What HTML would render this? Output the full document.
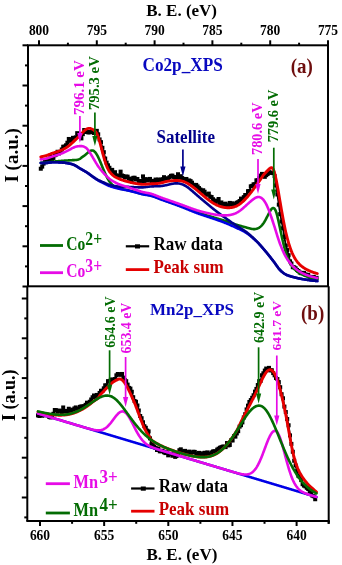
<!DOCTYPE html>
<html><head><meta charset="utf-8"><style>
html,body{margin:0;padding:0;background:#fff;}
svg{display:block;will-change:transform;}
</style></head><body>
<svg width="342" height="565" viewBox="0 0 342 565">
<rect width="342" height="565" fill="#fff"/>
<line x1="39.00" y1="45.3" x2="39.00" y2="40.3" stroke="#000" stroke-width="2"/>
<text transform="translate(39.00,34.7) scale(1,1.13)" text-anchor="middle" style="font-family:'Liberation Serif',serif;font-weight:bold;font-size:13.5px">800</text>
<line x1="67.90" y1="45.3" x2="67.90" y2="42.699999999999996" stroke="#000" stroke-width="2"/>
<line x1="96.80" y1="45.3" x2="96.80" y2="40.3" stroke="#000" stroke-width="2"/>
<text transform="translate(96.80,34.7) scale(1,1.13)" text-anchor="middle" style="font-family:'Liberation Serif',serif;font-weight:bold;font-size:13.5px">795</text>
<line x1="125.70" y1="45.3" x2="125.70" y2="42.699999999999996" stroke="#000" stroke-width="2"/>
<line x1="154.60" y1="45.3" x2="154.60" y2="40.3" stroke="#000" stroke-width="2"/>
<text transform="translate(154.60,34.7) scale(1,1.13)" text-anchor="middle" style="font-family:'Liberation Serif',serif;font-weight:bold;font-size:13.5px">790</text>
<line x1="183.50" y1="45.3" x2="183.50" y2="42.699999999999996" stroke="#000" stroke-width="2"/>
<line x1="212.40" y1="45.3" x2="212.40" y2="40.3" stroke="#000" stroke-width="2"/>
<text transform="translate(212.40,34.7) scale(1,1.13)" text-anchor="middle" style="font-family:'Liberation Serif',serif;font-weight:bold;font-size:13.5px">785</text>
<line x1="241.30" y1="45.3" x2="241.30" y2="42.699999999999996" stroke="#000" stroke-width="2"/>
<line x1="270.20" y1="45.3" x2="270.20" y2="40.3" stroke="#000" stroke-width="2"/>
<text transform="translate(270.20,34.7) scale(1,1.13)" text-anchor="middle" style="font-family:'Liberation Serif',serif;font-weight:bold;font-size:13.5px">780</text>
<line x1="299.10" y1="45.3" x2="299.10" y2="42.699999999999996" stroke="#000" stroke-width="2"/>
<line x1="328.00" y1="45.3" x2="328.00" y2="40.3" stroke="#000" stroke-width="2"/>
<text transform="translate(328.00,34.7) scale(1,1.13)" text-anchor="middle" style="font-family:'Liberation Serif',serif;font-weight:bold;font-size:13.5px">775</text>
<line x1="28" y1="45.30" x2="22.5" y2="45.30" stroke="#000" stroke-width="2"/>
<line x1="28" y1="65.40" x2="25" y2="65.40" stroke="#000" stroke-width="2"/>
<line x1="28" y1="85.50" x2="22.5" y2="85.50" stroke="#000" stroke-width="2"/>
<line x1="28" y1="105.60" x2="25" y2="105.60" stroke="#000" stroke-width="2"/>
<line x1="28" y1="125.70" x2="22.5" y2="125.70" stroke="#000" stroke-width="2"/>
<line x1="28" y1="145.80" x2="25" y2="145.80" stroke="#000" stroke-width="2"/>
<line x1="28" y1="165.90" x2="22.5" y2="165.90" stroke="#000" stroke-width="2"/>
<line x1="28" y1="186.00" x2="25" y2="186.00" stroke="#000" stroke-width="2"/>
<line x1="28" y1="206.10" x2="22.5" y2="206.10" stroke="#000" stroke-width="2"/>
<line x1="28" y1="226.20" x2="25" y2="226.20" stroke="#000" stroke-width="2"/>
<line x1="28" y1="246.30" x2="22.5" y2="246.30" stroke="#000" stroke-width="2"/>
<line x1="28" y1="266.40" x2="25" y2="266.40" stroke="#000" stroke-width="2"/>
<line x1="28" y1="286.50" x2="22.5" y2="286.50" stroke="#000" stroke-width="2"/>
<line x1="40.00" y1="521" x2="40.00" y2="526" stroke="#000" stroke-width="2"/>
<text transform="translate(40.00,540) scale(1,1.13)" text-anchor="middle" style="font-family:'Liberation Serif',serif;font-weight:bold;font-size:13.5px">660</text>
<line x1="72.08" y1="521" x2="72.08" y2="523.8" stroke="#000" stroke-width="2"/>
<line x1="104.15" y1="521" x2="104.15" y2="526" stroke="#000" stroke-width="2"/>
<text transform="translate(104.15,540) scale(1,1.13)" text-anchor="middle" style="font-family:'Liberation Serif',serif;font-weight:bold;font-size:13.5px">655</text>
<line x1="136.22" y1="521" x2="136.22" y2="523.8" stroke="#000" stroke-width="2"/>
<line x1="168.30" y1="521" x2="168.30" y2="526" stroke="#000" stroke-width="2"/>
<text transform="translate(168.30,540) scale(1,1.13)" text-anchor="middle" style="font-family:'Liberation Serif',serif;font-weight:bold;font-size:13.5px">650</text>
<line x1="200.38" y1="521" x2="200.38" y2="523.8" stroke="#000" stroke-width="2"/>
<line x1="232.45" y1="521" x2="232.45" y2="526" stroke="#000" stroke-width="2"/>
<text transform="translate(232.45,540) scale(1,1.13)" text-anchor="middle" style="font-family:'Liberation Serif',serif;font-weight:bold;font-size:13.5px">645</text>
<line x1="264.52" y1="521" x2="264.52" y2="523.8" stroke="#000" stroke-width="2"/>
<line x1="296.60" y1="521" x2="296.60" y2="526" stroke="#000" stroke-width="2"/>
<text transform="translate(296.60,540) scale(1,1.13)" text-anchor="middle" style="font-family:'Liberation Serif',serif;font-weight:bold;font-size:13.5px">640</text>
<line x1="328.68" y1="521" x2="328.68" y2="523.8" stroke="#000" stroke-width="2"/>
<line x1="328.7" y1="521" x2="328.7" y2="523.8" stroke="#000" stroke-width="2"/>
<line x1="27.3" y1="298.50" x2="21.8" y2="298.50" stroke="#000" stroke-width="2"/>
<line x1="27.3" y1="318.40" x2="24.3" y2="318.40" stroke="#000" stroke-width="2"/>
<line x1="27.3" y1="338.30" x2="21.8" y2="338.30" stroke="#000" stroke-width="2"/>
<line x1="27.3" y1="358.20" x2="24.3" y2="358.20" stroke="#000" stroke-width="2"/>
<line x1="27.3" y1="378.10" x2="21.8" y2="378.10" stroke="#000" stroke-width="2"/>
<line x1="27.3" y1="398.00" x2="24.3" y2="398.00" stroke="#000" stroke-width="2"/>
<line x1="27.3" y1="417.90" x2="21.8" y2="417.90" stroke="#000" stroke-width="2"/>
<line x1="27.3" y1="437.80" x2="24.3" y2="437.80" stroke="#000" stroke-width="2"/>
<line x1="27.3" y1="457.70" x2="21.8" y2="457.70" stroke="#000" stroke-width="2"/>
<line x1="27.3" y1="477.60" x2="24.3" y2="477.60" stroke="#000" stroke-width="2"/>
<line x1="27.3" y1="497.50" x2="21.8" y2="497.50" stroke="#000" stroke-width="2"/>
<line x1="27.3" y1="517.40" x2="24.3" y2="517.40" stroke="#000" stroke-width="2"/>
<text transform="translate(146.2,16.2) scale(1,1.0)" fill="#000" text-anchor="start" style="font-family:'Liberation Serif',serif;font-weight:bold;font-size:17px">B. E. (eV)</text>
<text transform="translate(146.5,559.5) scale(1,1.0)" fill="#000" text-anchor="start" style="font-family:'Liberation Serif',serif;font-weight:bold;font-size:17px">B. E. (eV)</text>
<text transform="translate(17.8,182.6) rotate(-90) scale(1.04,1)" fill="#000" style="font-family:'Liberation Serif',serif;font-weight:bold;font-size:18.3px">I (a.u.)</text>
<text transform="translate(15.4,420.9) rotate(-90) scale(1.0,1)" fill="#000" style="font-family:'Liberation Serif',serif;font-weight:bold;font-size:18.0px">I (a.u.)</text>
<path d="M40.80,168.72 L42.20,166.62 L43.60,163.60 L45.00,161.39 L46.40,162.14 L47.80,159.66 L49.20,158.83 L50.60,156.92 L52.00,159.86 L53.40,157.91 L54.80,155.20 L56.20,154.52 L57.60,151.76 L59.00,153.41 L60.40,152.08 L61.80,149.48 L63.20,146.72 L64.60,146.60 L66.00,145.29 L67.40,142.71 L68.80,138.96 L70.20,140.82 L71.60,139.49 L73.00,137.82 L74.40,138.49 L75.80,137.36 L77.20,133.16 L78.60,135.43 L80.00,134.88 L81.40,138.38 L82.80,134.18 L84.20,130.04 L85.60,131.86 L87.00,131.94 L88.40,132.46 L89.80,132.22 L91.20,131.92 L92.60,132.12 L94.00,132.96 L95.40,131.90 L96.80,130.85 L98.20,134.30 L99.60,139.42 L101.00,142.19 L102.40,147.78 L103.80,152.18 L105.20,158.53 L106.60,162.60 L108.00,165.30 L109.40,167.76 L110.80,170.72 L112.20,169.87 L113.60,173.25 L115.00,172.22 L116.40,175.42 L117.80,176.14 L119.20,175.65 L120.60,171.66 L122.00,175.53 L123.40,176.04 L124.80,177.55 L126.20,176.61 L127.60,176.66 L129.00,178.60 L130.40,179.14 L131.80,180.44 L133.20,177.86 L134.60,177.75 L136.00,179.51 L137.40,178.97 L138.80,181.62 L140.20,181.07 L141.60,180.97 L143.00,176.40 L144.40,181.37 L145.80,179.11 L147.20,180.47 L148.60,179.81 L150.00,178.92 L151.40,180.96 L152.80,180.90 L154.20,181.03 L155.60,179.55 L157.00,181.21 L158.40,179.53 L159.80,180.76 L161.20,179.72 L162.60,179.21 L164.00,177.18 L165.40,179.73 L166.80,178.56 L168.20,178.33 L169.60,177.18 L171.00,175.87 L172.40,175.57 L173.80,176.93 L175.20,177.57 L176.60,177.29 L178.00,174.23 L179.40,177.64 L180.80,176.19 L182.20,178.05 L183.60,179.21 L185.00,179.03 L186.40,178.96 L187.80,181.28 L189.20,180.42 L190.60,181.12 L192.00,182.67 L193.40,184.84 L194.80,186.27 L196.20,184.91 L197.60,186.42 L199.00,188.06 L200.40,189.52 L201.80,191.83 L203.20,190.24 L204.60,191.75 L206.00,194.50 L207.40,194.62 L208.80,193.59 L210.20,196.68 L211.60,197.05 L213.00,199.23 L214.40,200.73 L215.80,202.45 L217.20,200.69 L218.60,199.00 L220.00,203.43 L221.40,202.45 L222.80,204.16 L224.20,204.16 L225.60,203.65 L227.00,205.41 L228.40,205.53 L229.80,202.91 L231.20,204.35 L232.60,203.30 L234.00,204.55 L235.40,204.28 L236.80,202.72 L238.20,202.18 L239.60,201.01 L241.00,198.59 L242.40,199.87 L243.80,197.15 L245.20,195.04 L246.60,195.25 L248.00,191.18 L249.40,191.00 L250.80,186.32 L252.20,185.85 L253.60,184.30 L255.00,184.34 L256.40,180.33 L257.80,180.24 L259.20,178.20 L260.60,175.61 L262.00,173.89 L263.40,175.55 L264.80,176.84 L266.20,175.16 L267.60,174.01 L269.00,172.20 L270.40,172.88 L271.80,172.58 L273.20,173.11 L274.60,176.08 L276.00,185.39 L277.40,194.47 L278.80,204.62 L280.20,214.12 L281.60,221.54 L283.00,228.30 L284.40,236.99 L285.80,245.50 L287.20,250.06 L288.60,255.22 L290.00,261.33 L291.40,263.48 L292.80,267.17 L294.20,267.29 L295.60,268.25 L297.00,269.93 L298.40,271.00 L299.80,272.49 L301.20,273.17 L302.60,272.99 L304.00,272.86 L305.40,274.39 L306.80,274.99 L308.20,274.78 L309.60,276.83 L311.00,277.00 L312.40,277.71 L313.80,276.90 L315.20,279.10 L316.60,277.84" fill="none" stroke="#000" stroke-width="1.8" stroke-linejoin="round"/><g fill="#000"><rect x="38.80" y="166.72" width="4.0" height="4.0"/><rect x="40.20" y="164.62" width="4.0" height="4.0"/><rect x="41.60" y="161.60" width="4.0" height="4.0"/><rect x="43.00" y="159.39" width="4.0" height="4.0"/><rect x="44.40" y="160.14" width="4.0" height="4.0"/><rect x="45.80" y="157.66" width="4.0" height="4.0"/><rect x="47.20" y="156.83" width="4.0" height="4.0"/><rect x="48.60" y="154.92" width="4.0" height="4.0"/><rect x="50.00" y="157.86" width="4.0" height="4.0"/><rect x="51.40" y="155.91" width="4.0" height="4.0"/><rect x="52.80" y="153.20" width="4.0" height="4.0"/><rect x="54.20" y="152.52" width="4.0" height="4.0"/><rect x="55.60" y="149.76" width="4.0" height="4.0"/><rect x="57.00" y="151.41" width="4.0" height="4.0"/><rect x="58.40" y="150.08" width="4.0" height="4.0"/><rect x="59.80" y="147.48" width="4.0" height="4.0"/><rect x="61.20" y="144.72" width="4.0" height="4.0"/><rect x="62.60" y="144.60" width="4.0" height="4.0"/><rect x="64.00" y="143.29" width="4.0" height="4.0"/><rect x="65.40" y="140.71" width="4.0" height="4.0"/><rect x="66.80" y="136.96" width="4.0" height="4.0"/><rect x="68.20" y="138.82" width="4.0" height="4.0"/><rect x="69.60" y="137.49" width="4.0" height="4.0"/><rect x="71.00" y="135.82" width="4.0" height="4.0"/><rect x="72.40" y="136.49" width="4.0" height="4.0"/><rect x="73.80" y="135.36" width="4.0" height="4.0"/><rect x="75.20" y="131.16" width="4.0" height="4.0"/><rect x="76.60" y="133.43" width="4.0" height="4.0"/><rect x="78.00" y="132.88" width="4.0" height="4.0"/><rect x="79.40" y="136.38" width="4.0" height="4.0"/><rect x="80.80" y="132.18" width="4.0" height="4.0"/><rect x="82.20" y="128.04" width="4.0" height="4.0"/><rect x="83.60" y="129.86" width="4.0" height="4.0"/><rect x="85.00" y="129.94" width="4.0" height="4.0"/><rect x="86.40" y="130.46" width="4.0" height="4.0"/><rect x="87.80" y="130.22" width="4.0" height="4.0"/><rect x="89.20" y="129.92" width="4.0" height="4.0"/><rect x="90.60" y="130.12" width="4.0" height="4.0"/><rect x="92.00" y="130.96" width="4.0" height="4.0"/><rect x="93.40" y="129.90" width="4.0" height="4.0"/><rect x="94.80" y="128.85" width="4.0" height="4.0"/><rect x="96.20" y="132.30" width="4.0" height="4.0"/><rect x="97.60" y="137.42" width="4.0" height="4.0"/><rect x="99.00" y="140.19" width="4.0" height="4.0"/><rect x="100.40" y="145.78" width="4.0" height="4.0"/><rect x="101.80" y="150.18" width="4.0" height="4.0"/><rect x="103.20" y="156.53" width="4.0" height="4.0"/><rect x="104.60" y="160.60" width="4.0" height="4.0"/><rect x="106.00" y="163.30" width="4.0" height="4.0"/><rect x="107.40" y="165.76" width="4.0" height="4.0"/><rect x="108.80" y="168.72" width="4.0" height="4.0"/><rect x="110.20" y="167.87" width="4.0" height="4.0"/><rect x="111.60" y="171.25" width="4.0" height="4.0"/><rect x="113.00" y="170.22" width="4.0" height="4.0"/><rect x="114.40" y="173.42" width="4.0" height="4.0"/><rect x="115.80" y="174.14" width="4.0" height="4.0"/><rect x="117.20" y="173.65" width="4.0" height="4.0"/><rect x="118.60" y="169.66" width="4.0" height="4.0"/><rect x="120.00" y="173.53" width="4.0" height="4.0"/><rect x="121.40" y="174.04" width="4.0" height="4.0"/><rect x="122.80" y="175.55" width="4.0" height="4.0"/><rect x="124.20" y="174.61" width="4.0" height="4.0"/><rect x="125.60" y="174.66" width="4.0" height="4.0"/><rect x="127.00" y="176.60" width="4.0" height="4.0"/><rect x="128.40" y="177.14" width="4.0" height="4.0"/><rect x="129.80" y="178.44" width="4.0" height="4.0"/><rect x="131.20" y="175.86" width="4.0" height="4.0"/><rect x="132.60" y="175.75" width="4.0" height="4.0"/><rect x="134.00" y="177.51" width="4.0" height="4.0"/><rect x="135.40" y="176.97" width="4.0" height="4.0"/><rect x="136.80" y="179.62" width="4.0" height="4.0"/><rect x="138.20" y="179.07" width="4.0" height="4.0"/><rect x="139.60" y="178.97" width="4.0" height="4.0"/><rect x="141.00" y="174.40" width="4.0" height="4.0"/><rect x="142.40" y="179.37" width="4.0" height="4.0"/><rect x="143.80" y="177.11" width="4.0" height="4.0"/><rect x="145.20" y="178.47" width="4.0" height="4.0"/><rect x="146.60" y="177.81" width="4.0" height="4.0"/><rect x="148.00" y="176.92" width="4.0" height="4.0"/><rect x="149.40" y="178.96" width="4.0" height="4.0"/><rect x="150.80" y="178.90" width="4.0" height="4.0"/><rect x="152.20" y="179.03" width="4.0" height="4.0"/><rect x="153.60" y="177.55" width="4.0" height="4.0"/><rect x="155.00" y="179.21" width="4.0" height="4.0"/><rect x="156.40" y="177.53" width="4.0" height="4.0"/><rect x="157.80" y="178.76" width="4.0" height="4.0"/><rect x="159.20" y="177.72" width="4.0" height="4.0"/><rect x="160.60" y="177.21" width="4.0" height="4.0"/><rect x="162.00" y="175.18" width="4.0" height="4.0"/><rect x="163.40" y="177.73" width="4.0" height="4.0"/><rect x="164.80" y="176.56" width="4.0" height="4.0"/><rect x="166.20" y="176.33" width="4.0" height="4.0"/><rect x="167.60" y="175.18" width="4.0" height="4.0"/><rect x="169.00" y="173.87" width="4.0" height="4.0"/><rect x="170.40" y="173.57" width="4.0" height="4.0"/><rect x="171.80" y="174.93" width="4.0" height="4.0"/><rect x="173.20" y="175.57" width="4.0" height="4.0"/><rect x="174.60" y="175.29" width="4.0" height="4.0"/><rect x="176.00" y="172.23" width="4.0" height="4.0"/><rect x="177.40" y="175.64" width="4.0" height="4.0"/><rect x="178.80" y="174.19" width="4.0" height="4.0"/><rect x="180.20" y="176.05" width="4.0" height="4.0"/><rect x="181.60" y="177.21" width="4.0" height="4.0"/><rect x="183.00" y="177.03" width="4.0" height="4.0"/><rect x="184.40" y="176.96" width="4.0" height="4.0"/><rect x="185.80" y="179.28" width="4.0" height="4.0"/><rect x="187.20" y="178.42" width="4.0" height="4.0"/><rect x="188.60" y="179.12" width="4.0" height="4.0"/><rect x="190.00" y="180.67" width="4.0" height="4.0"/><rect x="191.40" y="182.84" width="4.0" height="4.0"/><rect x="192.80" y="184.27" width="4.0" height="4.0"/><rect x="194.20" y="182.91" width="4.0" height="4.0"/><rect x="195.60" y="184.42" width="4.0" height="4.0"/><rect x="197.00" y="186.06" width="4.0" height="4.0"/><rect x="198.40" y="187.52" width="4.0" height="4.0"/><rect x="199.80" y="189.83" width="4.0" height="4.0"/><rect x="201.20" y="188.24" width="4.0" height="4.0"/><rect x="202.60" y="189.75" width="4.0" height="4.0"/><rect x="204.00" y="192.50" width="4.0" height="4.0"/><rect x="205.40" y="192.62" width="4.0" height="4.0"/><rect x="206.80" y="191.59" width="4.0" height="4.0"/><rect x="208.20" y="194.68" width="4.0" height="4.0"/><rect x="209.60" y="195.05" width="4.0" height="4.0"/><rect x="211.00" y="197.23" width="4.0" height="4.0"/><rect x="212.40" y="198.73" width="4.0" height="4.0"/><rect x="213.80" y="200.45" width="4.0" height="4.0"/><rect x="215.20" y="198.69" width="4.0" height="4.0"/><rect x="216.60" y="197.00" width="4.0" height="4.0"/><rect x="218.00" y="201.43" width="4.0" height="4.0"/><rect x="219.40" y="200.45" width="4.0" height="4.0"/><rect x="220.80" y="202.16" width="4.0" height="4.0"/><rect x="222.20" y="202.16" width="4.0" height="4.0"/><rect x="223.60" y="201.65" width="4.0" height="4.0"/><rect x="225.00" y="203.41" width="4.0" height="4.0"/><rect x="226.40" y="203.53" width="4.0" height="4.0"/><rect x="227.80" y="200.91" width="4.0" height="4.0"/><rect x="229.20" y="202.35" width="4.0" height="4.0"/><rect x="230.60" y="201.30" width="4.0" height="4.0"/><rect x="232.00" y="202.55" width="4.0" height="4.0"/><rect x="233.40" y="202.28" width="4.0" height="4.0"/><rect x="234.80" y="200.72" width="4.0" height="4.0"/><rect x="236.20" y="200.18" width="4.0" height="4.0"/><rect x="237.60" y="199.01" width="4.0" height="4.0"/><rect x="239.00" y="196.59" width="4.0" height="4.0"/><rect x="240.40" y="197.87" width="4.0" height="4.0"/><rect x="241.80" y="195.15" width="4.0" height="4.0"/><rect x="243.20" y="193.04" width="4.0" height="4.0"/><rect x="244.60" y="193.25" width="4.0" height="4.0"/><rect x="246.00" y="189.18" width="4.0" height="4.0"/><rect x="247.40" y="189.00" width="4.0" height="4.0"/><rect x="248.80" y="184.32" width="4.0" height="4.0"/><rect x="250.20" y="183.85" width="4.0" height="4.0"/><rect x="251.60" y="182.30" width="4.0" height="4.0"/><rect x="253.00" y="182.34" width="4.0" height="4.0"/><rect x="254.40" y="178.33" width="4.0" height="4.0"/><rect x="255.80" y="178.24" width="4.0" height="4.0"/><rect x="257.20" y="176.20" width="4.0" height="4.0"/><rect x="258.60" y="173.61" width="4.0" height="4.0"/><rect x="260.00" y="171.89" width="4.0" height="4.0"/><rect x="261.40" y="173.55" width="4.0" height="4.0"/><rect x="262.80" y="174.84" width="4.0" height="4.0"/><rect x="264.20" y="173.16" width="4.0" height="4.0"/><rect x="265.60" y="172.01" width="4.0" height="4.0"/><rect x="267.00" y="170.20" width="4.0" height="4.0"/><rect x="268.40" y="170.88" width="4.0" height="4.0"/><rect x="269.80" y="170.58" width="4.0" height="4.0"/><rect x="271.20" y="171.11" width="4.0" height="4.0"/><rect x="272.60" y="174.08" width="4.0" height="4.0"/><rect x="274.00" y="183.39" width="4.0" height="4.0"/><rect x="275.40" y="192.47" width="4.0" height="4.0"/><rect x="276.80" y="202.62" width="4.0" height="4.0"/><rect x="278.20" y="212.12" width="4.0" height="4.0"/><rect x="279.60" y="219.54" width="4.0" height="4.0"/><rect x="281.00" y="226.30" width="4.0" height="4.0"/><rect x="282.40" y="234.99" width="4.0" height="4.0"/><rect x="283.80" y="243.50" width="4.0" height="4.0"/><rect x="285.20" y="248.06" width="4.0" height="4.0"/><rect x="286.60" y="253.22" width="4.0" height="4.0"/><rect x="288.00" y="259.33" width="4.0" height="4.0"/><rect x="289.40" y="261.48" width="4.0" height="4.0"/><rect x="290.80" y="265.17" width="4.0" height="4.0"/><rect x="292.20" y="265.29" width="4.0" height="4.0"/><rect x="293.60" y="266.25" width="4.0" height="4.0"/><rect x="295.00" y="267.93" width="4.0" height="4.0"/><rect x="296.40" y="269.00" width="4.0" height="4.0"/><rect x="297.80" y="270.49" width="4.0" height="4.0"/><rect x="299.20" y="271.17" width="4.0" height="4.0"/><rect x="300.60" y="270.99" width="4.0" height="4.0"/><rect x="302.00" y="270.86" width="4.0" height="4.0"/><rect x="303.40" y="272.39" width="4.0" height="4.0"/><rect x="304.80" y="272.99" width="4.0" height="4.0"/><rect x="306.20" y="272.78" width="4.0" height="4.0"/><rect x="307.60" y="274.83" width="4.0" height="4.0"/><rect x="309.00" y="275.00" width="4.0" height="4.0"/><rect x="310.40" y="275.71" width="4.0" height="4.0"/><rect x="311.80" y="274.90" width="4.0" height="4.0"/><rect x="313.20" y="277.10" width="4.0" height="4.0"/><rect x="314.60" y="275.84" width="4.0" height="4.0"/></g>
<path d="M40.8,162.85 41.3,162.85 41.8,162.84 42.3,162.83 42.8,162.82 43.3,162.81 43.8,162.80 44.3,162.79 44.8,162.78 45.3,162.76 45.8,162.73 46.3,162.69 46.8,162.63 47.3,162.57 47.8,162.49 48.3,162.41 48.8,162.32 49.3,162.23 49.8,162.14 50.3,162.04 50.8,161.95 51.3,161.86 51.8,161.78 52.3,161.70 52.8,161.63 53.3,161.57 53.8,161.52 54.3,161.48 54.8,161.44 55.3,161.40 55.8,161.36 56.3,161.32 56.8,161.28 57.3,161.24 57.8,161.21 58.3,161.17 58.8,161.13 59.3,161.09 59.8,161.05 60.3,161.01 60.8,160.96 61.3,160.92 61.8,160.87 62.3,160.82 62.8,160.78 63.3,160.73 63.8,160.69 64.3,160.65 64.8,160.61 65.3,160.57 65.8,160.54 66.3,160.51 66.8,160.48 67.3,160.45 67.8,160.43 68.3,160.40 68.8,160.38 69.3,160.35 69.8,160.32 70.3,160.29 70.8,160.26 71.3,160.22 71.8,160.19 72.3,160.17 72.8,160.15 73.3,160.14 73.8,160.12 74.3,160.10 74.8,160.07 75.3,160.02 75.8,159.99 76.3,159.94 76.8,159.89 77.3,159.81 77.8,159.71 78.3,159.57 78.8,159.39 79.3,159.17 79.8,158.90 80.3,158.57 80.8,158.19 81.3,157.79 81.8,157.40 82.3,157.03 82.8,156.67 83.3,156.32 83.8,155.97 84.3,155.61 84.8,155.24 85.3,154.85 85.8,154.44 86.3,154.02 86.8,153.59 87.3,153.14 87.8,152.70 88.3,152.28 88.8,151.89 89.3,151.52 89.8,151.20 90.3,150.93 90.8,150.72 91.3,150.56 91.8,150.47 92.3,150.46 92.8,150.53 93.3,150.71 93.8,150.98 94.3,151.36 94.8,151.83 95.3,152.39 95.8,153.04 96.3,153.77 96.8,154.58 97.3,155.46 97.8,156.41 98.3,157.42 98.8,158.47 99.3,159.57 99.8,160.71 100.3,161.88 100.8,163.07 101.3,164.27 101.8,165.49 102.3,166.71 102.8,167.93 103.3,169.13 103.8,170.32 104.3,171.50 104.8,172.65 105.3,173.77 105.8,174.86 106.3,175.92 106.8,176.93 107.3,177.90 107.8,178.82 108.3,179.68 108.8,180.49 109.3,181.24 109.8,181.93 110.3,182.57 110.8,183.16 111.3,183.71 111.8,184.21 112.3,184.68 112.8,185.10 113.3,185.50 113.8,185.86 114.3,186.19 114.8,186.50 115.3,186.78 115.8,187.04 116.3,187.28 116.8,187.50 117.3,187.70 117.8,187.90 118.3,188.07 118.8,188.24 119.3,188.40 119.8,188.54 120.3,188.67 120.8,188.80 121.3,188.92 121.8,189.03 122.3,189.13 122.8,189.24 123.3,189.33 123.8,189.43 124.3,189.53 124.8,189.62 125.3,189.72 125.8,189.82 126.3,189.92 126.8,190.02 127.3,190.12 127.8,190.23 128.3,190.35 128.8,190.46 129.3,190.58 129.8,190.70 130.3,190.82 130.8,190.94 131.3,191.06 131.8,191.19 132.3,191.31 132.8,191.44 133.3,191.57 133.8,191.70 134.3,191.83 134.8,191.96 135.3,192.09 135.8,192.22 136.3,192.34 136.8,192.47 137.3,192.61 137.8,192.75 138.3,192.89 138.8,193.03 139.3,193.18 139.8,193.32 140.3,193.45 140.8,193.59 141.3,193.72 141.8,193.84 142.3,193.95 142.8,194.06 143.3,194.16 143.8,194.25 144.3,194.33 144.8,194.41 145.3,194.49 145.8,194.57 146.3,194.64 146.8,194.71 147.3,194.79 147.8,194.87 148.3,194.95 148.8,195.04 149.3,195.14 149.8,195.24 150.3,195.35 150.8,195.48 151.3,195.61 151.8,195.74 152.3,195.89 152.8,196.04 153.3,196.20 153.8,196.37 154.3,196.54 154.8,196.72 155.3,196.90 155.8,197.08 156.3,197.27 156.8,197.46 157.3,197.65 157.8,197.84 158.3,198.04 158.8,198.23 159.3,198.42 159.8,198.62 160.3,198.81 160.8,198.99 161.3,199.18 161.8,199.36 162.3,199.54 162.8,199.72 163.3,199.89 163.8,200.06 164.3,200.24 164.8,200.41 165.3,200.58 165.8,200.76 166.3,200.93 166.8,201.10 167.3,201.28 167.8,201.45 168.3,201.62 168.8,201.80 169.3,201.97 169.8,202.14 170.3,202.31 170.8,202.49 171.3,202.66 171.8,202.84 172.3,203.01 172.8,203.19 173.3,203.36 173.8,203.54 174.3,203.71 174.8,203.89 175.3,204.07 175.8,204.24 176.3,204.42 176.8,204.60 177.3,204.78 177.8,204.96 178.3,205.14 178.8,205.32 179.3,205.50 179.8,205.68 180.3,205.87 180.8,206.05 181.3,206.24 181.8,206.43 182.3,206.62 182.8,206.81 183.3,207.00 183.8,207.20 184.3,207.39 184.8,207.59 185.3,207.79 185.8,207.98 186.3,208.18 186.8,208.38 187.3,208.58 187.8,208.78 188.3,208.97 188.8,209.17 189.3,209.37 189.8,209.57 190.3,209.76 190.8,209.96 191.3,210.15 191.8,210.35 192.3,210.54 192.8,210.73 193.3,210.92 193.8,211.11 194.3,211.30 194.8,211.49 195.3,211.67 195.8,211.85 196.3,212.03 196.8,212.21 197.3,212.38 197.8,212.55 198.3,212.72 198.8,212.89 199.3,213.06 199.8,213.22 200.3,213.38 200.8,213.54 201.3,213.70 201.8,213.85 202.3,214.01 202.8,214.16 203.3,214.32 203.8,214.47 204.3,214.62 204.8,214.77 205.3,214.92 205.8,215.07 206.3,215.22 206.8,215.38 207.3,215.53 207.8,215.68 208.3,215.83 208.8,215.98 209.3,216.14 209.8,216.29 210.3,216.45 210.8,216.60 211.3,216.75 211.8,216.91 212.3,217.06 212.8,217.21 213.3,217.36 213.8,217.51 214.3,217.66 214.8,217.80 215.3,217.95 215.8,218.10 216.3,218.25 216.8,218.40 217.3,218.54 217.8,218.69 218.3,218.84 218.8,218.99 219.3,219.14 219.8,219.29 220.3,219.44 220.8,219.59 221.3,219.74 221.8,219.89 222.3,220.04 222.8,220.20 223.3,220.36 223.8,220.51 224.3,220.67 224.8,220.83 225.3,220.99 225.8,221.16 226.3,221.32 226.8,221.49 227.3,221.66 227.8,221.83 228.3,222.00 228.8,222.17 229.3,222.34 229.8,222.52 230.3,222.69 230.8,222.86 231.3,223.04 231.8,223.21 232.3,223.38 232.8,223.55 233.3,223.73 233.8,223.90 234.3,224.06 234.8,224.23 235.3,224.40 235.8,224.56 236.3,224.71 236.8,224.86 237.3,225.01 237.8,225.15 238.3,225.30 238.8,225.44 239.3,225.57 239.8,225.71 240.3,225.84 240.8,225.98 241.3,226.11 241.8,226.24 242.3,226.38 242.8,226.51 243.3,226.65 243.8,226.78 244.3,226.92 244.8,227.06 245.3,227.20 245.8,227.34 246.3,227.48 246.8,227.63 247.3,227.78 247.8,227.93 248.3,228.07 248.8,228.22 249.3,228.36 249.8,228.49 250.3,228.61 250.8,228.73 251.3,228.83 251.8,228.93 252.3,229.00 252.8,229.06 253.3,229.10 253.8,229.12 254.3,229.12 254.8,229.09 255.3,229.03 255.8,228.94 256.3,228.83 256.8,228.69 257.3,228.52 257.8,228.32 258.3,228.09 258.8,227.83 259.3,227.53 259.8,227.18 260.3,226.80 260.8,226.37 261.3,225.89 261.8,225.37 262.3,224.79 262.8,224.17 263.3,223.50 263.8,222.77 264.3,222.00 264.8,221.17 265.3,220.30 265.8,219.39 266.3,218.44 266.8,217.46 267.3,216.47 267.8,215.47 268.3,214.46 268.8,213.48 269.3,212.52 269.8,211.60 270.3,210.74 270.8,209.97 271.3,209.30 271.8,208.74 272.3,208.34 272.8,208.09 273.3,208.02 273.8,208.14 274.3,208.47 274.8,209.04 275.3,209.88 275.8,211.03 276.3,212.45 276.8,214.12 277.3,216.01 277.8,218.08 278.3,220.28 278.8,222.58 279.3,224.94 279.8,227.32 280.3,229.68 280.8,232.02 281.3,234.35 281.8,236.64 282.3,238.87 282.8,241.05 283.3,243.15 283.8,245.16 284.3,247.09 284.8,248.92 285.3,250.66 285.8,252.30 286.3,253.84 286.8,255.28 287.3,256.64 287.8,257.93 288.3,259.13 288.8,260.26 289.3,261.32 289.8,262.32 290.3,263.25 290.8,264.12 291.3,264.93 291.8,265.70 292.3,266.41 292.8,267.09 293.3,267.72 293.8,268.31 294.3,268.87 294.8,269.40 295.3,269.89 295.8,270.36 296.3,270.81 296.8,271.23 297.3,271.62 297.8,272.00 298.3,272.36 298.8,272.70 299.3,273.02 299.8,273.33 300.3,273.62 300.8,273.90 301.3,274.17 301.8,274.43 302.3,274.67 302.8,274.91 303.3,275.13 303.8,275.35 304.3,275.55 304.8,275.75 305.3,275.94 305.8,276.13 306.3,276.30 306.8,276.48 307.3,276.64 307.8,276.81 308.3,276.96 308.8,277.12 309.3,277.26 309.8,277.41 310.3,277.55 310.8,277.68 311.3,277.82 311.8,277.94 312.3,278.07 312.8,278.19 313.3,278.30 313.8,278.42 314.3,278.52 314.8,278.63 315.3,278.73 315.8,278.83 316.3,278.92 316.8,279.01 317.3,279.10" fill="none" stroke="#036c03" stroke-width="2.6" stroke-linecap="round" stroke-linejoin="round"/>
<path d="M40.8,163.00 41.3,163.00 41.8,163.00 42.3,163.00 42.8,163.00 43.3,163.00 43.8,163.00 44.3,163.00 44.8,163.00 45.3,163.00 45.8,162.98 46.3,162.95 46.8,162.91 47.3,162.86 47.8,162.81 48.3,162.75 48.8,162.68 49.3,162.61 49.8,162.55 50.3,162.48 50.8,162.42 51.3,162.36 51.8,162.31 52.3,162.26 52.8,162.23 53.3,162.21 53.8,162.20 54.3,162.20 54.8,162.21 55.3,162.22 55.8,162.23 56.3,162.24 56.8,162.26 57.3,162.28 57.8,162.31 58.3,162.33 58.8,162.36 59.3,162.39 59.8,162.42 60.3,162.45 60.8,162.48 61.3,162.52 61.8,162.55 62.3,162.59 62.8,162.62 63.3,162.66 63.8,162.71 64.3,162.76 64.8,162.82 65.3,162.88 65.8,162.95 66.3,163.02 66.8,163.10 67.3,163.18 67.8,163.27 68.3,163.36 68.8,163.46 69.3,163.56 69.8,163.66 70.3,163.77 70.8,163.88 71.3,164.00 71.8,164.13 72.3,164.29 72.8,164.46 73.3,164.65 73.8,164.86 74.3,165.07 74.8,165.30 75.3,165.54 75.8,165.81 76.3,166.11 76.8,166.42 77.3,166.74 77.8,167.07 78.3,167.40 78.8,167.74 79.3,168.06 79.8,168.38 80.3,168.68 80.8,168.98 81.3,169.27 81.8,169.55 82.3,169.84 82.8,170.12 83.3,170.40 83.8,170.69 84.3,170.97 84.8,171.26 85.3,171.56 85.8,171.86 86.3,172.16 86.8,172.48 87.3,172.80 87.8,173.14 88.3,173.49 88.8,173.86 89.3,174.24 89.8,174.63 90.3,175.02 90.8,175.41 91.3,175.79 91.8,176.16 92.3,176.51 92.8,176.87 93.3,177.23 93.8,177.58 94.3,177.93 94.8,178.28 95.3,178.63 95.8,178.96 96.3,179.29 96.8,179.61 97.3,179.93 97.8,180.23 98.3,180.51 98.8,180.79 99.3,181.06 99.8,181.32 100.3,181.57 100.8,181.82 101.3,182.07 101.8,182.31 102.3,182.54 102.8,182.78 103.3,183.02 103.8,183.26 104.3,183.50 104.8,183.75 105.3,184.00 105.8,184.25 106.3,184.51 106.8,184.76 107.3,185.01 107.8,185.26 108.3,185.49 108.8,185.72 109.3,185.93 109.8,186.13 110.3,186.31 110.8,186.48 111.3,186.65 111.8,186.82 112.3,186.97 112.8,187.13 113.3,187.28 113.8,187.42 114.3,187.57 114.8,187.70 115.3,187.84 115.8,187.97 116.3,188.10 116.8,188.22 117.3,188.34 117.8,188.47 118.3,188.58 118.8,188.70 119.3,188.81 119.8,188.92 120.3,189.03 120.8,189.13 121.3,189.22 121.8,189.32 122.3,189.41 122.8,189.50 123.3,189.59 123.8,189.68 124.3,189.77 124.8,189.86 125.3,189.96 125.8,190.05 126.3,190.15 126.8,190.25 127.3,190.36 127.8,190.47 128.3,190.58 128.8,190.69 129.3,190.81 129.8,190.93 130.3,191.05 130.8,191.18 131.3,191.30 131.8,191.43 132.3,191.56 132.8,191.69 133.3,191.82 133.8,191.95 134.3,192.08 134.8,192.21 135.3,192.34 135.8,192.47 136.3,192.60 136.8,192.73 137.3,192.87 137.8,193.01 138.3,193.15 138.8,193.30 139.3,193.44 139.8,193.59 140.3,193.73 140.8,193.86 141.3,193.99 141.8,194.12 142.3,194.23 142.8,194.34 143.3,194.44 143.8,194.53 144.3,194.62 144.8,194.70 145.3,194.78 145.8,194.86 146.3,194.94 146.8,195.01 147.3,195.09 147.8,195.17 148.3,195.26 148.8,195.35 149.3,195.45 149.8,195.56 150.3,195.67 150.8,195.79 151.3,195.93 151.8,196.07 152.3,196.22 152.8,196.37 153.3,196.54 153.8,196.71 154.3,196.88 154.8,197.06 155.3,197.24 155.8,197.43 156.3,197.62 156.8,197.81 157.3,198.01 157.8,198.20 158.3,198.40 158.8,198.60 159.3,198.79 159.8,198.99 160.3,199.18 160.8,199.37 161.3,199.56 161.8,199.75 162.3,199.93 162.8,200.11 163.3,200.28 163.8,200.46 164.3,200.64 164.8,200.82 165.3,200.99 165.8,201.17 166.3,201.35 166.8,201.52 167.3,201.70 167.8,201.88 168.3,202.05 168.8,202.23 169.3,202.41 169.8,202.59 170.3,202.76 170.8,202.94 171.3,203.12 171.8,203.30 172.3,203.48 172.8,203.66 173.3,203.84 173.8,204.02 174.3,204.20 174.8,204.38 175.3,204.56 175.8,204.74 176.3,204.92 176.8,205.11 177.3,205.29 177.8,205.48 178.3,205.66 178.8,205.85 179.3,206.04 179.8,206.22 180.3,206.41 180.8,206.60 181.3,206.80 181.8,206.99 182.3,207.19 182.8,207.39 183.3,207.59 183.8,207.79 184.3,207.99 184.8,208.19 185.3,208.39 185.8,208.60 186.3,208.80 186.8,209.01 187.3,209.21 187.8,209.42 188.3,209.62 188.8,209.83 189.3,210.04 189.8,210.24 190.3,210.45 190.8,210.65 191.3,210.85 191.8,211.06 192.3,211.26 192.8,211.46 193.3,211.66 193.8,211.85 194.3,212.05 194.8,212.25 195.3,212.44 195.8,212.63 196.3,212.82 196.8,213.01 197.3,213.19 197.8,213.37 198.3,213.55 198.8,213.73 199.3,213.91 199.8,214.08 200.3,214.25 200.8,214.42 201.3,214.59 201.8,214.76 202.3,214.93 202.8,215.10 203.3,215.26 203.8,215.43 204.3,215.59 204.8,215.76 205.3,215.92 205.8,216.09 206.3,216.25 206.8,216.42 207.3,216.59 207.8,216.75 208.3,216.92 208.8,217.09 209.3,217.26 209.8,217.43 210.3,217.60 210.8,217.78 211.3,217.95 211.8,218.12 212.3,218.29 212.8,218.46 213.3,218.63 213.8,218.80 214.3,218.97 214.8,219.14 215.3,219.30 215.8,219.47 216.3,219.65 216.8,219.82 217.3,219.99 217.8,220.16 218.3,220.33 218.8,220.51 219.3,220.68 219.8,220.86 220.3,221.04 220.8,221.22 221.3,221.40 221.8,221.58 222.3,221.77 222.8,221.95 223.3,222.14 223.8,222.33 224.3,222.53 224.8,222.72 225.3,222.92 225.8,223.12 226.3,223.32 226.8,223.53 227.3,223.74 227.8,223.95 228.3,224.17 228.8,224.39 229.3,224.60 229.8,224.83 230.3,225.05 230.8,225.27 231.3,225.50 231.8,225.73 232.3,225.96 232.8,226.19 233.3,226.42 233.8,226.65 234.3,226.88 234.8,227.11 235.3,227.35 235.8,227.58 236.3,227.81 236.8,228.03 237.3,228.26 237.8,228.49 238.3,228.71 238.8,228.94 239.3,229.17 239.8,229.40 240.3,229.64 240.8,229.88 241.3,230.12 241.8,230.36 242.3,230.62 242.8,230.87 243.3,231.14 243.8,231.41 244.3,231.69 244.8,231.98 245.3,232.28 245.8,232.59 246.3,232.91 246.8,233.24 247.3,233.58 247.8,233.94 248.3,234.30 248.8,234.67 249.3,235.06 249.8,235.45 250.3,235.85 250.8,236.26 251.3,236.68 251.8,237.10 252.3,237.53 252.8,237.97 253.3,238.41 253.8,238.86 254.3,239.31 254.8,239.77 255.3,240.23 255.8,240.69 256.3,241.17 256.8,241.65 257.3,242.15 257.8,242.65 258.3,243.17 258.8,243.70 259.3,244.23 259.8,244.78 260.3,245.33 260.8,245.89 261.3,246.45 261.8,247.02 262.3,247.59 262.8,248.17 263.3,248.75 263.8,249.33 264.3,249.92 264.8,250.51 265.3,251.09 265.8,251.68 266.3,252.27 266.8,252.87 267.3,253.47 267.8,254.08 268.3,254.70 268.8,255.32 269.3,255.95 269.8,256.58 270.3,257.21 270.8,257.85 271.3,258.49 271.8,259.13 272.3,259.78 272.8,260.42 273.3,261.07 273.8,261.71 274.3,262.36 274.8,263.03 275.3,263.73 275.8,264.45 276.3,265.17 276.8,265.89 277.3,266.61 277.8,267.31 278.3,267.99 278.8,268.63 279.3,269.24 279.8,269.80 280.3,270.30 280.8,270.77 281.3,271.22 281.8,271.66 282.3,272.09 282.8,272.50 283.3,272.89 283.8,273.26 284.3,273.61 284.8,273.93 285.3,274.23 285.8,274.51 286.3,274.75 286.8,274.98 287.3,275.19 287.8,275.39 288.3,275.58 288.8,275.76 289.3,275.93 289.8,276.09 290.3,276.25 290.8,276.40 291.3,276.54 291.8,276.68 292.3,276.81 292.8,276.95 293.3,277.07 293.8,277.20 294.3,277.33 294.8,277.45 295.3,277.57 295.8,277.69 296.3,277.81 296.8,277.93 297.3,278.04 297.8,278.16 298.3,278.27 298.8,278.37 299.3,278.48 299.8,278.58 300.3,278.68 300.8,278.78 301.3,278.88 301.8,278.97 302.3,279.07 302.8,279.16 303.3,279.24 303.8,279.33 304.3,279.41 304.8,279.49 305.3,279.57 305.8,279.65 306.3,279.72 306.8,279.79 307.3,279.87 307.8,279.94 308.3,280.01 308.8,280.08 309.3,280.15 309.8,280.22 310.3,280.28 310.8,280.35 311.3,280.41 311.8,280.47 312.3,280.53 312.8,280.59 313.3,280.65 313.8,280.71 314.3,280.76 314.8,280.81 315.3,280.86 315.8,280.91 316.3,280.96 316.8,281.00 317.3,281.04" fill="none" stroke="#0000e6" stroke-width="2.6" stroke-linecap="round" stroke-linejoin="round"/>
<path d="M40.8,163.00 41.3,163.00 41.8,163.00 42.3,163.00 42.8,163.00 43.3,163.00 43.8,163.00 44.3,163.00 44.8,163.00 45.3,163.00 45.8,162.98 46.3,162.95 46.8,162.91 47.3,162.86 47.8,162.81 48.3,162.75 48.8,162.68 49.3,162.61 49.8,162.54 50.3,162.48 50.8,162.41 51.3,162.35 51.8,162.30 52.3,162.26 52.8,162.23 53.3,162.20 53.8,162.20 54.3,162.20 54.8,162.20 55.3,162.21 55.8,162.22 56.3,162.24 56.8,162.26 57.3,162.28 57.8,162.30 58.3,162.32 58.8,162.35 59.3,162.38 59.8,162.41 60.3,162.44 60.8,162.47 61.3,162.51 61.8,162.54 62.3,162.58 62.8,162.61 63.3,162.65 63.8,162.70 64.3,162.75 64.8,162.81 65.3,162.87 65.8,162.94 66.3,163.01 66.8,163.08 67.3,163.17 67.8,163.25 68.3,163.34 68.8,163.44 69.3,163.53 69.8,163.64 70.3,163.74 70.8,163.86 71.3,163.97 71.8,164.10 72.3,164.25 72.8,164.42 73.3,164.61 73.8,164.82 74.3,165.03 74.8,165.25 75.3,165.49 75.8,165.76 76.3,166.05 76.8,166.36 77.3,166.68 77.8,167.01 78.3,167.34 78.8,167.66 79.3,167.99 79.8,168.30 80.3,168.60 80.8,168.89 81.3,169.17 81.8,169.46 82.3,169.74 82.8,170.01 83.3,170.29 83.8,170.57 84.3,170.85 84.8,171.13 85.3,171.42 85.8,171.71 86.3,172.01 86.8,172.31 87.3,172.63 87.8,172.96 88.3,173.30 88.8,173.66 89.3,174.03 89.8,174.41 90.3,174.79 90.8,175.16 91.3,175.53 91.8,175.89 92.3,176.24 92.8,176.58 93.3,176.92 93.8,177.26 94.3,177.60 94.8,177.93 95.3,178.26 95.8,178.58 96.3,178.89 96.8,179.20 97.3,179.49 97.8,179.77 98.3,180.04 98.8,180.30 99.3,180.54 99.8,180.78 100.3,181.01 100.8,181.24 101.3,181.46 101.8,181.67 102.3,181.88 102.8,182.09 103.3,182.30 103.8,182.51 104.3,182.72 104.8,182.94 105.3,183.16 105.8,183.38 106.3,183.60 106.8,183.82 107.3,184.03 107.8,184.24 108.3,184.44 108.8,184.62 109.3,184.79 109.8,184.95 110.3,185.09 110.8,185.22 111.3,185.34 111.8,185.46 112.3,185.57 112.8,185.67 113.3,185.77 113.8,185.87 114.3,185.95 114.8,186.04 115.3,186.12 115.8,186.19 116.3,186.26 116.8,186.32 117.3,186.39 117.8,186.44 118.3,186.50 118.8,186.55 119.3,186.59 119.8,186.63 120.3,186.67 120.8,186.70 121.3,186.72 121.8,186.74 122.3,186.76 122.8,186.77 123.3,186.78 123.8,186.79 124.3,186.80 124.8,186.81 125.3,186.82 125.8,186.83 126.3,186.84 126.8,186.85 127.3,186.86 127.8,186.88 128.3,186.90 128.8,186.92 129.3,186.94 129.8,186.97 130.3,186.99 130.8,187.01 131.3,187.04 131.8,187.06 132.3,187.09 132.8,187.11 133.3,187.13 133.8,187.15 134.3,187.18 134.8,187.20 135.3,187.21 135.8,187.23 136.3,187.25 136.8,187.27 137.3,187.29 137.8,187.31 138.3,187.33 138.8,187.36 139.3,187.38 139.8,187.40 140.3,187.41 140.8,187.42 141.3,187.42 141.8,187.42 142.3,187.41 142.8,187.38 143.3,187.35 143.8,187.31 144.3,187.26 144.8,187.20 145.3,187.14 145.8,187.07 146.3,187.01 146.8,186.94 147.3,186.87 147.8,186.80 148.3,186.73 148.8,186.67 149.3,186.61 149.8,186.56 150.3,186.51 150.8,186.47 151.3,186.44 151.8,186.41 152.3,186.38 152.8,186.36 153.3,186.35 153.8,186.33 154.3,186.32 154.8,186.31 155.3,186.30 155.8,186.29 156.3,186.28 156.8,186.27 157.3,186.25 157.8,186.24 158.3,186.22 158.8,186.19 159.3,186.16 159.8,186.13 160.3,186.09 160.8,186.04 161.3,185.99 161.8,185.93 162.3,185.86 162.8,185.78 163.3,185.70 163.8,185.61 164.3,185.52 164.8,185.43 165.3,185.33 165.8,185.23 166.3,185.13 166.8,185.02 167.3,184.91 167.8,184.80 168.3,184.68 168.8,184.57 169.3,184.45 169.8,184.33 170.3,184.22 170.8,184.10 171.3,183.98 171.8,183.87 172.3,183.77 172.8,183.68 173.3,183.59 173.8,183.52 174.3,183.46 174.8,183.41 175.3,183.38 175.8,183.35 176.3,183.34 176.8,183.35 177.3,183.36 177.8,183.39 178.3,183.44 178.8,183.50 179.3,183.57 179.8,183.66 180.3,183.77 180.8,183.89 181.3,184.04 181.8,184.19 182.3,184.37 182.8,184.56 183.3,184.77 183.8,185.00 184.3,185.24 184.8,185.51 185.3,185.78 185.8,186.08 186.3,186.39 186.8,186.72 187.3,187.06 187.8,187.42 188.3,187.79 188.8,188.18 189.3,188.58 189.8,188.99 190.3,189.41 190.8,189.82 191.3,190.25 191.8,190.67 192.3,191.10 192.8,191.53 193.3,191.97 193.8,192.40 194.3,192.84 194.8,193.28 195.3,193.72 195.8,194.15 196.3,194.59 196.8,195.03 197.3,195.46 197.8,195.90 198.3,196.33 198.8,196.77 199.3,197.20 199.8,197.63 200.3,198.06 200.8,198.48 201.3,198.91 201.8,199.34 202.3,199.76 202.8,200.18 203.3,200.60 203.8,201.03 204.3,201.45 204.8,201.86 205.3,202.28 205.8,202.70 206.3,203.12 206.8,203.53 207.3,203.95 207.8,204.36 208.3,204.78 208.8,205.19 209.3,205.61 209.8,206.02 210.3,206.43 210.8,206.84 211.3,207.25 211.8,207.66 212.3,208.06 212.8,208.46 213.3,208.86 213.8,209.26 214.3,209.66 214.8,210.05 215.3,210.44 215.8,210.83 216.3,211.22 216.8,211.60 217.3,211.98 217.8,212.36 218.3,212.74 218.8,213.12 219.3,213.50 219.8,213.87 220.3,214.25 220.8,214.62 221.3,214.99 221.8,215.36 222.3,215.72 222.8,216.09 223.3,216.46 223.8,216.82 224.3,217.18 224.8,217.55 225.3,217.91 225.8,218.27 226.3,218.63 226.8,218.99 227.3,219.36 227.8,219.72 228.3,220.08 228.8,220.43 229.3,220.79 229.8,221.15 230.3,221.50 230.8,221.85 231.3,222.21 231.8,222.55 232.3,222.90 232.8,223.25 233.3,223.59 233.8,223.93 234.3,224.27 234.8,224.61 235.3,224.94 235.8,225.27 236.3,225.59 236.8,225.91 237.3,226.22 237.8,226.54 238.3,226.85 238.8,227.15 239.3,227.46 239.8,227.77 240.3,228.07 240.8,228.38 241.3,228.69 241.8,229.00 242.3,229.32 242.8,229.63 243.3,229.96 243.8,230.28 244.3,230.62 244.8,230.96 245.3,231.30 245.8,231.66 246.3,232.03 246.8,232.40 247.3,232.79 247.8,233.18 248.3,233.58 248.8,233.99 249.3,234.41 249.8,234.84 250.3,235.27 250.8,235.71 251.3,236.16 251.8,236.61 252.3,237.07 252.8,237.53 253.3,238.00 253.8,238.47 254.3,238.94 254.8,239.42 255.3,239.90 255.8,240.38 256.3,240.87 256.8,241.37 257.3,241.89 257.8,242.41 258.3,242.94 258.8,243.48 259.3,244.03 259.8,244.59 260.3,245.15 260.8,245.72 261.3,246.29 261.8,246.87 262.3,247.45 262.8,248.04 263.3,248.63 263.8,249.22 264.3,249.81 264.8,250.41 265.3,251.00 265.8,251.59 266.3,252.19 266.8,252.79 267.3,253.40 267.8,254.02 268.3,254.64 268.8,255.26 269.3,255.89 269.8,256.53 270.3,257.17 270.8,257.81 271.3,258.45 271.8,259.10 272.3,259.74 272.8,260.39 273.3,261.04 273.8,261.68 274.3,262.33 274.8,263.01 275.3,263.71 275.8,264.43 276.3,265.15 276.8,265.87 277.3,266.59 277.8,267.29 278.3,267.97 278.8,268.62 279.3,269.23 279.8,269.79 280.3,270.29 280.8,270.76 281.3,271.21 281.8,271.66 282.3,272.08 282.8,272.49 283.3,272.88 283.8,273.25 284.3,273.60 284.8,273.93 285.3,274.23 285.8,274.50 286.3,274.75 286.8,274.97 287.3,275.18 287.8,275.38 288.3,275.57 288.8,275.75 289.3,275.93 289.8,276.09 290.3,276.25 290.8,276.40 291.3,276.54 291.8,276.68 292.3,276.81 292.8,276.94 293.3,277.07 293.8,277.20 294.3,277.32 294.8,277.45 295.3,277.57 295.8,277.69 296.3,277.81 296.8,277.93 297.3,278.04 297.8,278.15 298.3,278.26 298.8,278.37 299.3,278.48 299.8,278.58 300.3,278.68 300.8,278.78 301.3,278.88 301.8,278.97 302.3,279.07 302.8,279.16 303.3,279.24 303.8,279.33 304.3,279.41 304.8,279.49 305.3,279.57 305.8,279.65 306.3,279.72 306.8,279.79 307.3,279.87 307.8,279.94 308.3,280.01 308.8,280.08 309.3,280.15 309.8,280.22 310.3,280.28 310.8,280.35 311.3,280.41 311.8,280.47 312.3,280.53 312.8,280.59 313.3,280.65 313.8,280.71 314.3,280.76 314.8,280.81 315.3,280.86 315.8,280.91 316.3,280.96 316.8,281.00 317.3,281.04" fill="none" stroke="#00008c" stroke-width="2.6" stroke-linecap="round" stroke-linejoin="round"/>
<path d="M40.8,159.41 41.3,159.34 41.8,159.27 42.3,159.20 42.8,159.13 43.3,159.05 43.8,158.98 44.3,158.90 44.8,158.82 45.3,158.73 45.8,158.63 46.3,158.51 46.8,158.38 47.3,158.23 47.8,158.08 48.3,157.92 48.8,157.75 49.3,157.58 49.8,157.40 50.3,157.22 50.8,157.04 51.3,156.86 51.8,156.68 52.3,156.51 52.8,156.35 53.3,156.19 53.8,156.04 54.3,155.90 54.8,155.75 55.3,155.61 55.8,155.46 56.3,155.31 56.8,155.16 57.3,155.00 57.8,154.84 58.3,154.68 58.8,154.51 59.3,154.34 59.8,154.16 60.3,153.98 60.8,153.79 61.3,153.60 61.8,153.40 62.3,153.19 62.8,152.97 63.3,152.76 63.8,152.53 64.3,152.31 64.8,152.08 65.3,151.85 65.8,151.61 66.3,151.37 66.8,151.13 67.3,150.88 67.8,150.63 68.3,150.37 68.8,150.11 69.3,149.84 69.8,149.57 70.3,149.29 70.8,149.01 71.3,148.73 71.8,148.45 72.3,148.19 72.8,147.95 73.3,147.71 73.8,147.49 74.3,147.28 74.8,147.07 75.3,146.88 75.8,146.72 76.3,146.58 76.8,146.47 77.3,146.38 77.8,146.31 78.3,146.25 78.8,146.20 79.3,146.16 79.8,146.13 80.3,146.11 80.8,146.10 81.3,146.12 81.8,146.16 82.3,146.23 82.8,146.32 83.3,146.45 83.8,146.62 84.3,146.82 84.8,147.06 85.3,147.35 85.8,147.69 86.3,148.08 86.8,148.54 87.3,149.05 87.8,149.61 88.3,150.24 88.8,150.93 89.3,151.66 89.8,152.43 90.3,153.23 90.8,154.06 91.3,154.90 91.8,155.74 92.3,156.58 92.8,157.44 93.3,158.30 93.8,159.16 94.3,160.02 94.8,160.87 95.3,161.71 95.8,162.55 96.3,163.37 96.8,164.17 97.3,164.95 97.8,165.71 98.3,166.44 98.8,167.16 99.3,167.85 99.8,168.52 100.3,169.17 100.8,169.81 101.3,170.42 101.8,171.02 102.3,171.61 102.8,172.18 103.3,172.74 103.8,173.29 104.3,173.83 104.8,174.36 105.3,174.89 105.8,175.41 106.3,175.92 106.8,176.42 107.3,176.91 107.8,177.38 108.3,177.84 108.8,178.27 109.3,178.69 109.8,179.08 110.3,179.44 110.8,179.80 111.3,180.14 111.8,180.47 112.3,180.79 112.8,181.10 113.3,181.40 113.8,181.68 114.3,181.96 114.8,182.23 115.3,182.49 115.8,182.75 116.3,182.99 116.8,183.23 117.3,183.47 117.8,183.69 118.3,183.91 118.8,184.13 119.3,184.33 119.8,184.53 120.3,184.73 120.8,184.91 121.3,185.09 121.8,185.26 122.3,185.43 122.8,185.60 123.3,185.76 123.8,185.92 124.3,186.08 124.8,186.23 125.3,186.39 125.8,186.54 126.3,186.70 126.8,186.86 127.3,187.02 127.8,187.18 128.3,187.34 128.8,187.51 129.3,187.67 129.8,187.84 130.3,188.01 130.8,188.17 131.3,188.34 131.8,188.51 132.3,188.67 132.8,188.84 133.3,189.01 133.8,189.17 134.3,189.34 134.8,189.50 135.3,189.67 135.8,189.83 136.3,189.99 136.8,190.15 137.3,190.32 137.8,190.48 138.3,190.65 138.8,190.82 139.3,190.99 139.8,191.16 140.3,191.32 140.8,191.48 141.3,191.63 141.8,191.78 142.3,191.92 142.8,192.04 143.3,192.16 143.8,192.27 144.3,192.38 144.8,192.48 145.3,192.57 145.8,192.67 146.3,192.76 146.8,192.85 147.3,192.94 147.8,193.04 148.3,193.14 148.8,193.24 149.3,193.35 149.8,193.47 150.3,193.59 150.8,193.73 151.3,193.87 151.8,194.02 152.3,194.18 152.8,194.35 153.3,194.52 153.8,194.69 154.3,194.87 154.8,195.06 155.3,195.25 155.8,195.44 156.3,195.64 156.8,195.84 157.3,196.04 157.8,196.24 158.3,196.44 158.8,196.64 159.3,196.84 159.8,197.04 160.3,197.23 160.8,197.43 161.3,197.62 161.8,197.80 162.3,197.99 162.8,198.17 163.3,198.35 163.8,198.52 164.3,198.70 164.8,198.88 165.3,199.05 165.8,199.23 166.3,199.40 166.8,199.58 167.3,199.75 167.8,199.93 168.3,200.10 168.8,200.28 169.3,200.45 169.8,200.62 170.3,200.80 170.8,200.97 171.3,201.14 171.8,201.32 172.3,201.49 172.8,201.66 173.3,201.84 173.8,202.01 174.3,202.19 174.8,202.36 175.3,202.53 175.8,202.71 176.3,202.88 176.8,203.06 177.3,203.23 177.8,203.41 178.3,203.58 178.8,203.76 179.3,203.94 179.8,204.12 180.3,204.29 180.8,204.47 181.3,204.65 181.8,204.84 182.3,205.02 182.8,205.20 183.3,205.39 183.8,205.58 184.3,205.76 184.8,205.95 185.3,206.14 185.8,206.33 186.3,206.52 186.8,206.71 187.3,206.89 187.8,207.08 188.3,207.27 188.8,207.46 189.3,207.64 189.8,207.83 190.3,208.01 190.8,208.20 191.3,208.38 191.8,208.56 192.3,208.74 192.8,208.91 193.3,209.09 193.8,209.26 194.3,209.44 194.8,209.60 195.3,209.77 195.8,209.94 196.3,210.10 196.8,210.26 197.3,210.41 197.8,210.56 198.3,210.71 198.8,210.86 199.3,211.00 199.8,211.14 200.3,211.28 200.8,211.42 201.3,211.55 201.8,211.68 202.3,211.81 202.8,211.94 203.3,212.07 203.8,212.19 204.3,212.31 204.8,212.43 205.3,212.55 205.8,212.67 206.3,212.79 206.8,212.90 207.3,213.02 207.8,213.13 208.3,213.24 208.8,213.36 209.3,213.47 209.8,213.58 210.3,213.69 210.8,213.79 211.3,213.90 211.8,214.00 212.3,214.10 212.8,214.19 213.3,214.28 213.8,214.37 214.3,214.46 214.8,214.54 215.3,214.62 215.8,214.70 216.3,214.77 216.8,214.84 217.3,214.90 217.8,214.97 218.3,215.02 218.8,215.08 219.3,215.13 219.8,215.18 220.3,215.22 220.8,215.26 221.3,215.29 221.8,215.32 222.3,215.35 222.8,215.37 223.3,215.38 223.8,215.39 224.3,215.40 224.8,215.40 225.3,215.39 225.8,215.38 226.3,215.36 226.8,215.33 227.3,215.30 227.8,215.26 228.3,215.21 228.8,215.15 229.3,215.09 229.8,215.01 230.3,214.93 230.8,214.83 231.3,214.73 231.8,214.61 232.3,214.48 232.8,214.34 233.3,214.19 233.8,214.02 234.3,213.84 234.8,213.64 235.3,213.43 235.8,213.20 236.3,212.96 236.8,212.70 237.3,212.42 237.8,212.12 238.3,211.81 238.8,211.49 239.3,211.15 239.8,210.79 240.3,210.43 240.8,210.05 241.3,209.65 241.8,209.25 242.3,208.84 242.8,208.41 243.3,207.98 243.8,207.54 244.3,207.10 244.8,206.64 245.3,206.19 245.8,205.73 246.3,205.27 246.8,204.81 247.3,204.36 247.8,203.90 248.3,203.45 248.8,203.00 249.3,202.55 249.8,202.11 250.3,201.67 250.8,201.24 251.3,200.82 251.8,200.40 252.3,200.00 252.8,199.61 253.3,199.24 253.8,198.89 254.3,198.55 254.8,198.24 255.3,197.95 255.8,197.68 256.3,197.46 256.8,197.27 257.3,197.13 257.8,197.04 258.3,196.99 258.8,197.00 259.3,197.06 259.8,197.18 260.3,197.36 260.8,197.59 261.3,197.89 261.8,198.24 262.3,198.66 262.8,199.15 263.3,199.69 263.8,200.31 264.3,200.99 264.8,201.74 265.3,202.57 265.8,203.45 266.3,204.40 266.8,205.43 267.3,206.51 267.8,207.66 268.3,208.86 268.8,210.11 269.3,211.41 269.8,212.76 270.3,214.14 270.8,215.56 271.3,217.01 271.8,218.49 272.3,219.99 272.8,221.50 273.3,223.03 273.8,224.57 274.3,226.12 274.8,227.69 275.3,229.30 275.8,230.92 276.3,232.55 276.8,234.17 277.3,235.77 277.8,237.36 278.3,238.91 278.8,240.42 279.3,241.87 279.8,243.27 280.3,244.60 280.8,245.87 281.3,247.12 281.8,248.33 282.3,249.52 282.8,250.66 283.3,251.78 283.8,252.85 284.3,253.88 284.8,254.88 285.3,255.82 285.8,256.73 286.3,257.58 286.8,258.40 287.3,259.18 287.8,259.94 288.3,260.66 288.8,261.36 289.3,262.03 289.8,262.68 290.3,263.30 290.8,263.90 291.3,264.47 291.8,265.03 292.3,265.56 292.8,266.08 293.3,266.57 293.8,267.05 294.3,267.52 294.8,267.97 295.3,268.40 295.8,268.82 296.3,269.23 296.8,269.62 297.3,270.00 297.8,270.36 298.3,270.72 298.8,271.05 299.3,271.38 299.8,271.70 300.3,272.00 300.8,272.29 301.3,272.57 301.8,272.85 302.3,273.11 302.8,273.36 303.3,273.60 303.8,273.84 304.3,274.06 304.8,274.28 305.3,274.49 305.8,274.69 306.3,274.88 306.8,275.07 307.3,275.25 307.8,275.43 308.3,275.60 308.8,275.77 309.3,275.93 309.8,276.09 310.3,276.25 310.8,276.39 311.3,276.54 311.8,276.68 312.3,276.81 312.8,276.95 313.3,277.07 313.8,277.20 314.3,277.32 314.8,277.43 315.3,277.54 315.8,277.65 316.3,277.76 316.8,277.86 317.3,277.95" fill="none" stroke="#e60be6" stroke-width="2.6" stroke-linecap="round" stroke-linejoin="round"/>
<path d="M40.8,156.87 41.3,156.76 41.8,156.65 42.3,156.53 42.8,156.42 43.3,156.30 43.8,156.19 44.3,156.07 44.8,155.95 45.3,155.83 45.8,155.69 46.3,155.54 46.8,155.38 47.3,155.20 47.8,155.02 48.3,154.83 48.8,154.64 49.3,154.44 49.8,154.24 50.3,154.04 50.8,153.84 51.3,153.64 51.8,153.45 52.3,153.27 52.8,153.09 53.3,152.92 53.8,152.76 54.3,152.61 54.8,152.46 55.3,152.30 55.8,152.15 56.3,152.00 56.8,151.84 57.3,151.68 57.8,151.52 58.3,151.35 58.8,151.18 59.3,151.00 59.8,150.81 60.3,150.62 60.8,150.42 61.3,150.22 61.8,150.00 62.3,149.77 62.8,149.53 63.3,149.29 63.8,149.03 64.3,148.77 64.8,148.50 65.3,148.22 65.8,147.93 66.3,147.62 66.8,147.30 67.3,146.97 67.8,146.62 68.3,146.26 68.8,145.89 69.3,145.49 69.8,145.08 70.3,144.65 70.8,144.21 71.3,143.74 71.8,143.27 72.3,142.79 72.8,142.32 73.3,141.84 73.8,141.36 74.3,140.87 74.8,140.38 75.3,139.90 75.8,139.42 76.3,138.96 76.8,138.50 77.3,138.04 77.8,137.57 78.3,137.10 78.8,136.62 79.3,136.13 79.8,135.61 80.3,135.08 80.8,134.54 81.3,133.99 81.8,133.44 82.3,132.88 82.8,132.33 83.3,131.78 83.8,131.27 84.3,130.78 84.8,130.33 85.3,129.92 85.8,129.55 86.3,129.23 86.8,128.95 87.3,128.72 87.8,128.54 88.3,128.42 88.8,128.36 89.3,128.35 89.8,128.40 90.3,128.49 90.8,128.62 91.3,128.78 91.8,128.98 92.3,129.21 92.8,129.49 93.3,129.80 93.8,130.16 94.3,130.56 94.8,130.99 95.3,131.46 95.8,132.00 96.3,132.72 96.8,133.62 97.3,134.69 97.8,135.92 98.3,137.29 98.8,138.80 99.3,140.42 99.8,142.14 100.3,143.94 100.8,145.80 101.3,147.70 101.8,149.63 102.3,151.55 102.8,153.45 103.3,155.32 103.8,157.14 104.3,158.90 104.8,160.58 105.3,162.18 105.8,163.69 106.3,165.09 106.8,166.39 107.3,167.58 107.8,168.66 108.3,169.63 108.8,170.50 109.3,171.27 109.8,171.97 110.3,172.58 110.8,173.15 111.3,173.68 111.8,174.19 112.3,174.68 112.8,175.16 113.3,175.59 113.8,175.99 114.3,176.35 114.8,176.69 115.3,177.00 115.8,177.29 116.3,177.56 116.8,177.82 117.3,178.06 117.8,178.30 118.3,178.53 118.8,178.75 119.3,178.96 119.8,179.16 120.3,179.35 120.8,179.54 121.3,179.72 121.8,179.90 122.3,180.07 122.8,180.23 123.3,180.39 123.8,180.54 124.3,180.70 124.8,180.84 125.3,180.99 125.8,181.13 126.3,181.27 126.8,181.41 127.3,181.55 127.8,181.69 128.3,181.83 128.8,181.96 129.3,182.09 129.8,182.22 130.3,182.35 130.8,182.47 131.3,182.59 131.8,182.70 132.3,182.82 132.8,182.92 133.3,183.03 133.8,183.13 134.3,183.23 134.8,183.32 135.3,183.41 135.8,183.50 136.3,183.58 136.8,183.66 137.3,183.74 137.8,183.82 138.3,183.90 138.8,183.97 139.3,184.05 139.8,184.11 140.3,184.18 140.8,184.23 141.3,184.28 141.8,184.32 142.3,184.34 142.8,184.36 143.3,184.36 143.8,184.35 144.3,184.33 144.8,184.31 145.3,184.28 145.8,184.24 146.3,184.20 146.8,184.16 147.3,184.11 147.8,184.07 148.3,184.02 148.8,183.98 149.3,183.93 149.8,183.89 150.3,183.86 150.8,183.83 151.3,183.80 151.8,183.78 152.3,183.76 152.8,183.74 153.3,183.72 153.8,183.70 154.3,183.69 154.8,183.66 155.3,183.64 155.8,183.61 156.3,183.58 156.8,183.55 157.3,183.51 157.8,183.46 158.3,183.41 158.8,183.34 159.3,183.27 159.8,183.19 160.3,183.10 160.8,183.01 161.3,182.89 161.8,182.77 162.3,182.64 162.8,182.49 163.3,182.34 163.8,182.18 164.3,182.04 164.8,181.90 165.3,181.77 165.8,181.65 166.3,181.54 166.8,181.43 167.3,181.33 167.8,181.24 168.3,181.16 168.8,181.08 169.3,181.01 169.8,180.94 170.3,180.88 170.8,180.82 171.3,180.77 171.8,180.73 172.3,180.68 172.8,180.65 173.3,180.62 173.8,180.59 174.3,180.56 174.8,180.55 175.3,180.53 175.8,180.52 176.3,180.52 176.8,180.52 177.3,180.54 177.8,180.55 178.3,180.58 178.8,180.61 179.3,180.65 179.8,180.71 180.3,180.77 180.8,180.85 181.3,180.94 181.8,181.05 182.3,181.17 182.8,181.30 183.3,181.45 183.8,181.62 184.3,181.81 184.8,182.01 185.3,182.24 185.8,182.48 186.3,182.73 186.8,182.99 187.3,183.27 187.8,183.55 188.3,183.84 188.8,184.14 189.3,184.45 189.8,184.77 190.3,185.10 190.8,185.44 191.3,185.78 191.8,186.14 192.3,186.50 192.8,186.87 193.3,187.25 193.8,187.64 194.3,188.03 194.8,188.43 195.3,188.83 195.8,189.24 196.3,189.65 196.8,190.07 197.3,190.49 197.8,190.91 198.3,191.34 198.8,191.76 199.3,192.19 199.8,192.62 200.3,193.05 200.8,193.48 201.3,193.91 201.8,194.34 202.3,194.77 202.8,195.20 203.3,195.62 203.8,196.05 204.3,196.47 204.8,196.88 205.3,197.30 205.8,197.71 206.3,198.12 206.8,198.52 207.3,198.92 207.8,199.31 208.3,199.70 208.8,200.08 209.3,200.46 209.8,200.83 210.3,201.19 210.8,201.55 211.3,201.89 211.8,202.23 212.3,202.56 212.8,202.88 213.3,203.19 213.8,203.48 214.3,203.77 214.8,204.05 215.3,204.32 215.8,204.58 216.3,204.83 216.8,205.07 217.3,205.30 217.8,205.51 218.3,205.72 218.8,205.92 219.3,206.11 219.8,206.28 220.3,206.45 220.8,206.60 221.3,206.75 221.8,206.89 222.3,207.01 222.8,207.13 223.3,207.23 223.8,207.33 224.3,207.41 224.8,207.49 225.3,207.56 225.8,207.61 226.3,207.66 226.8,207.69 227.3,207.72 227.8,207.74 228.3,207.74 228.8,207.74 229.3,207.72 229.8,207.69 230.3,207.65 230.8,207.60 231.3,207.53 231.8,207.45 232.3,207.36 232.8,207.25 233.3,207.13 233.8,207.00 234.3,206.85 234.8,206.68 235.3,206.50 235.8,206.30 236.3,206.08 236.8,205.84 237.3,205.58 237.8,205.30 238.3,205.01 238.8,204.70 239.3,204.37 239.8,204.02 240.3,203.65 240.8,203.27 241.3,202.87 241.8,202.45 242.3,202.02 242.8,201.58 243.3,201.11 243.8,200.63 244.3,200.14 244.8,199.64 245.3,199.12 245.8,198.58 246.3,198.04 246.8,197.49 247.3,196.92 247.8,196.35 248.3,195.76 248.8,195.17 249.3,194.56 249.8,193.94 250.3,193.31 250.8,192.67 251.3,192.03 251.8,191.37 252.3,190.71 252.8,190.04 253.3,189.36 253.8,188.68 254.3,187.99 254.8,187.30 255.3,186.60 255.8,185.89 256.3,185.19 256.8,184.50 257.3,183.81 257.8,183.12 258.3,182.43 258.8,181.75 259.3,181.06 259.8,180.36 260.3,179.66 260.8,178.95 261.3,178.22 261.8,177.47 262.3,176.70 262.8,175.94 263.3,175.24 263.8,174.59 264.3,173.99 264.8,173.43 265.3,172.90 265.8,172.38 266.3,171.87 266.8,171.37 267.3,170.86 267.8,170.36 268.3,169.86 268.8,169.37 269.3,168.90 269.8,168.47 270.3,168.12 270.8,167.85 271.3,167.73 271.8,167.77 272.3,168.04 272.8,168.56 273.3,169.37 273.8,170.51 274.3,171.99 274.8,173.79 275.3,175.81 275.8,178.02 276.3,180.42 276.8,182.97 277.3,185.66 277.8,188.45 278.3,191.33 278.8,194.26 279.3,197.22 279.8,200.18 280.3,203.11 280.8,206.01 281.3,208.90 281.8,211.75 282.3,214.56 282.8,217.32 283.3,220.01 283.8,222.62 284.3,225.15 284.8,227.59 285.3,229.94 285.8,232.19 286.3,234.34 286.8,236.38 287.3,238.34 287.8,240.20 288.3,241.98 288.8,243.67 289.3,245.28 289.8,246.81 290.3,248.25 290.8,249.62 291.3,250.92 291.8,252.14 292.3,253.30 292.8,254.39 293.3,255.42 293.8,256.39 294.3,257.31 294.8,258.18 295.3,259.01 295.8,259.78 296.3,260.52 296.8,261.21 297.3,261.86 297.8,262.48 298.3,263.06 298.8,263.62 299.3,264.14 299.8,264.64 300.3,265.11 300.8,265.56 301.3,265.98 301.8,266.39 302.3,266.78 302.8,267.14 303.3,267.50 303.8,267.83 304.3,268.15 304.8,268.46 305.3,268.76 305.8,269.04 306.3,269.31 306.8,269.58 307.3,269.83 307.8,270.08 308.3,270.32 308.8,270.55 309.3,270.77 309.8,270.99 310.3,271.20 310.8,271.41 311.3,271.60 311.8,271.80 312.3,271.98 312.8,272.17 313.3,272.34 313.8,272.51 314.3,272.68 314.8,272.84 315.3,272.99 315.8,273.14 316.3,273.29 316.8,273.43 317.3,273.57" fill="none" stroke="#e60000" stroke-width="2.9" stroke-linecap="round" stroke-linejoin="round"/>
<line x1="79.9" y1="116" x2="79.9" y2="134" stroke="#e60be6" stroke-width="1.7"/><path d="M77.30000000000001,133 L82.5,133 L79.9,143 Z" fill="#e60be6"/>
<text transform="translate(83.6,114.9) rotate(-90) scale(1.0,1)" fill="#e60be6" style="font-family:'Liberation Serif',serif;font-weight:bold;font-size:14.9px">796.1 eV</text>
<line x1="94.9" y1="112.5" x2="94.9" y2="137" stroke="#036c03" stroke-width="1.7"/><path d="M92.30000000000001,136 L97.5,136 L94.9,146 Z" fill="#036c03"/>
<text transform="translate(98.5,110.1) rotate(-90) scale(1.0,1)" fill="#036c03" style="font-family:'Liberation Serif',serif;font-weight:bold;font-size:14.7px">795.3 eV</text>
<line x1="182.9" y1="149.4" x2="182.9" y2="167.6" stroke="#00008c" stroke-width="1.7"/><path d="M180.3,166.6 L185.5,166.6 L182.9,176.6 Z" fill="#00008c"/>
<text transform="translate(156.5,143.4) scale(1,1.06)" fill="#00008c" text-anchor="start" style="font-family:'Liberation Serif',serif;font-weight:bold;font-size:17px">Satellite</text>
<line x1="258" y1="159" x2="258" y2="185" stroke="#e60be6" stroke-width="1.7"/><path d="M255.4,184 L260.6,184 L258,194 Z" fill="#e60be6"/>
<text transform="translate(262.4,155) rotate(-90) scale(1.0,1)" fill="#e60be6" style="font-family:'Liberation Serif',serif;font-weight:bold;font-size:14.35px">780.6 eV</text>
<line x1="273.8" y1="147.7" x2="273.8" y2="190.5" stroke="#036c03" stroke-width="1.7"/><path d="M271.2,189.5 L276.40000000000003,189.5 L273.8,199.5 Z" fill="#036c03"/>
<text transform="translate(278.2,142.3) rotate(-90) scale(1.0,1)" fill="#036c03" style="font-family:'Liberation Serif',serif;font-weight:bold;font-size:14.35px">779.6 eV</text>
<text transform="translate(142.5,70.6) scale(1,1.07)" fill="#0808c0" text-anchor="start" style="font-family:'Liberation Serif',serif;font-weight:bold;font-size:17.2px">Co2p_XPS</text>
<text transform="translate(290.8,72.6) scale(1,1.07)" fill="#6e0e0e" style="font-family:'Liberation Serif',serif;font-weight:bold;font-size:19px">(a)</text>
<line x1="40" y1="245.5" x2="63" y2="245.5" stroke="#036c03" stroke-width="2.8"/>
<text transform="translate(66.3,249.5) scale(1,1.17)" fill="#036c03" style="font-family:'Liberation Serif',serif;font-weight:bold;font-size:15.6px">Co<tspan dy="-4.2">2+</tspan></text>
<line x1="40" y1="272.7" x2="63" y2="272.7" stroke="#e60be6" stroke-width="2.8"/>
<text transform="translate(66.3,276.5) scale(1,1.17)" fill="#e60be6" style="font-family:'Liberation Serif',serif;font-weight:bold;font-size:15.6px">Co<tspan dy="-4.2">3+</tspan></text>
<line x1="125.8" y1="246.3" x2="149.2" y2="246.3" stroke="#000" stroke-width="2.2"/><rect x="135" y="244.3" width="5" height="4.2"/>
<text transform="translate(153.4,250.2) scale(1,1.05)" fill="#000" text-anchor="start" style="font-family:'Liberation Serif',serif;font-weight:bold;font-size:17px">Raw data</text>
<line x1="125.8" y1="269.6" x2="149.2" y2="269.6" stroke="#e60000" stroke-width="2.8"/>
<text transform="translate(153.4,273.3) scale(1,1.05)" fill="#c80000" text-anchor="start" style="font-family:'Liberation Serif',serif;font-weight:bold;font-size:17px">Peak sum</text>
<path d="M38.00,415.41 L39.40,415.97 L40.80,413.53 L42.20,415.73 L43.60,414.00 L45.00,415.32 L46.40,414.64 L47.80,414.87 L49.20,416.89 L50.60,417.47 L52.00,414.91 L53.40,413.80 L54.80,410.00 L56.20,410.20 L57.60,411.80 L59.00,410.66 L60.40,410.85 L61.80,413.34 L63.20,407.47 L64.60,411.46 L66.00,410.88 L67.40,411.28 L68.80,408.75 L70.20,411.79 L71.60,410.20 L73.00,409.64 L74.40,408.43 L75.80,407.44 L77.20,409.40 L78.60,408.98 L80.00,406.85 L81.40,406.44 L82.80,406.62 L84.20,406.13 L85.60,404.81 L87.00,402.67 L88.40,403.18 L89.80,401.76 L91.20,399.49 L92.60,397.26 L94.00,395.49 L95.40,397.14 L96.80,394.95 L98.20,395.13 L99.60,392.95 L101.00,390.77 L102.40,390.80 L103.80,388.35 L105.20,385.33 L106.60,385.49 L108.00,381.16 L109.40,381.47 L110.80,379.77 L112.20,379.53 L113.60,379.83 L115.00,379.04 L116.40,375.33 L117.80,374.00 L119.20,374.52 L120.60,374.70 L122.00,373.96 L123.40,377.60 L124.80,379.98 L126.20,381.20 L127.60,384.61 L129.00,387.88 L130.40,388.58 L131.80,391.76 L133.20,397.20 L134.60,400.96 L136.00,401.78 L137.40,405.49 L138.80,410.49 L140.20,416.00 L141.60,418.20 L143.00,422.26 L144.40,426.20 L145.80,427.78 L147.20,430.61 L148.60,431.44 L150.00,438.34 L151.40,444.30 L152.80,445.18 L154.20,446.62 L155.60,447.84 L157.00,450.01 L158.40,448.50 L159.80,451.33 L161.20,451.18 L162.60,450.71 L164.00,452.28 L165.40,453.09 L166.80,452.25 L168.20,455.33 L169.60,453.95 L171.00,454.12 L172.40,455.75 L173.80,454.35 L175.20,456.89 L176.60,455.98 L178.00,453.08 L179.40,450.22 L180.80,449.32 L182.20,451.32 L183.60,451.59 L185.00,450.87 L186.40,452.47 L187.80,452.32 L189.20,451.61 L190.60,453.27 L192.00,452.54 L193.40,451.75 L194.80,451.93 L196.20,453.70 L197.60,454.27 L199.00,452.87 L200.40,454.43 L201.80,453.34 L203.20,454.59 L204.60,452.77 L206.00,454.52 L207.40,452.40 L208.80,453.59 L210.20,454.44 L211.60,452.42 L213.00,451.49 L214.40,451.20 L215.80,452.09 L217.20,449.58 L218.60,448.67 L220.00,447.73 L221.40,447.16 L222.80,446.60 L224.20,446.63 L225.60,447.11 L227.00,443.04 L228.40,445.41 L229.80,444.95 L231.20,440.21 L232.60,440.49 L234.00,436.16 L235.40,436.62 L236.80,433.44 L238.20,431.18 L239.60,426.65 L241.00,425.20 L242.40,422.42 L243.80,417.45 L245.20,414.19 L246.60,409.43 L248.00,405.63 L249.40,401.98 L250.80,400.08 L252.20,397.78 L253.60,395.26 L255.00,391.62 L256.40,388.94 L257.80,385.05 L259.20,381.17 L260.60,380.87 L262.00,375.28 L263.40,373.29 L264.80,370.57 L266.20,368.54 L267.60,370.08 L269.00,367.87 L270.40,370.36 L271.80,370.24 L273.20,373.08 L274.60,375.32 L276.00,378.02 L277.40,379.08 L278.80,382.10 L280.20,387.23 L281.60,394.22 L283.00,398.27 L284.40,406.60 L285.80,412.04 L287.20,419.02 L288.60,425.28 L290.00,435.38 L291.40,443.91 L292.80,451.75 L294.20,460.71 L295.60,465.43 L297.00,471.24 L298.40,475.80 L299.80,476.99 L301.20,480.12 L302.60,484.21 L304.00,485.60 L305.40,486.37 L306.80,487.81 L308.20,489.01 L309.60,493.28 L311.00,492.28 L312.40,495.66 L313.80,496.27 L315.20,499.24" fill="none" stroke="#000" stroke-width="1.8" stroke-linejoin="round"/><g fill="#000"><rect x="36.00" y="413.41" width="4.0" height="4.0"/><rect x="37.40" y="413.97" width="4.0" height="4.0"/><rect x="38.80" y="411.53" width="4.0" height="4.0"/><rect x="40.20" y="413.73" width="4.0" height="4.0"/><rect x="41.60" y="412.00" width="4.0" height="4.0"/><rect x="43.00" y="413.32" width="4.0" height="4.0"/><rect x="44.40" y="412.64" width="4.0" height="4.0"/><rect x="45.80" y="412.87" width="4.0" height="4.0"/><rect x="47.20" y="414.89" width="4.0" height="4.0"/><rect x="48.60" y="415.47" width="4.0" height="4.0"/><rect x="50.00" y="412.91" width="4.0" height="4.0"/><rect x="51.40" y="411.80" width="4.0" height="4.0"/><rect x="52.80" y="408.00" width="4.0" height="4.0"/><rect x="54.20" y="408.20" width="4.0" height="4.0"/><rect x="55.60" y="409.80" width="4.0" height="4.0"/><rect x="57.00" y="408.66" width="4.0" height="4.0"/><rect x="58.40" y="408.85" width="4.0" height="4.0"/><rect x="59.80" y="411.34" width="4.0" height="4.0"/><rect x="61.20" y="405.47" width="4.0" height="4.0"/><rect x="62.60" y="409.46" width="4.0" height="4.0"/><rect x="64.00" y="408.88" width="4.0" height="4.0"/><rect x="65.40" y="409.28" width="4.0" height="4.0"/><rect x="66.80" y="406.75" width="4.0" height="4.0"/><rect x="68.20" y="409.79" width="4.0" height="4.0"/><rect x="69.60" y="408.20" width="4.0" height="4.0"/><rect x="71.00" y="407.64" width="4.0" height="4.0"/><rect x="72.40" y="406.43" width="4.0" height="4.0"/><rect x="73.80" y="405.44" width="4.0" height="4.0"/><rect x="75.20" y="407.40" width="4.0" height="4.0"/><rect x="76.60" y="406.98" width="4.0" height="4.0"/><rect x="78.00" y="404.85" width="4.0" height="4.0"/><rect x="79.40" y="404.44" width="4.0" height="4.0"/><rect x="80.80" y="404.62" width="4.0" height="4.0"/><rect x="82.20" y="404.13" width="4.0" height="4.0"/><rect x="83.60" y="402.81" width="4.0" height="4.0"/><rect x="85.00" y="400.67" width="4.0" height="4.0"/><rect x="86.40" y="401.18" width="4.0" height="4.0"/><rect x="87.80" y="399.76" width="4.0" height="4.0"/><rect x="89.20" y="397.49" width="4.0" height="4.0"/><rect x="90.60" y="395.26" width="4.0" height="4.0"/><rect x="92.00" y="393.49" width="4.0" height="4.0"/><rect x="93.40" y="395.14" width="4.0" height="4.0"/><rect x="94.80" y="392.95" width="4.0" height="4.0"/><rect x="96.20" y="393.13" width="4.0" height="4.0"/><rect x="97.60" y="390.95" width="4.0" height="4.0"/><rect x="99.00" y="388.77" width="4.0" height="4.0"/><rect x="100.40" y="388.80" width="4.0" height="4.0"/><rect x="101.80" y="386.35" width="4.0" height="4.0"/><rect x="103.20" y="383.33" width="4.0" height="4.0"/><rect x="104.60" y="383.49" width="4.0" height="4.0"/><rect x="106.00" y="379.16" width="4.0" height="4.0"/><rect x="107.40" y="379.47" width="4.0" height="4.0"/><rect x="108.80" y="377.77" width="4.0" height="4.0"/><rect x="110.20" y="377.53" width="4.0" height="4.0"/><rect x="111.60" y="377.83" width="4.0" height="4.0"/><rect x="113.00" y="377.04" width="4.0" height="4.0"/><rect x="114.40" y="373.33" width="4.0" height="4.0"/><rect x="115.80" y="372.00" width="4.0" height="4.0"/><rect x="117.20" y="372.52" width="4.0" height="4.0"/><rect x="118.60" y="372.70" width="4.0" height="4.0"/><rect x="120.00" y="371.96" width="4.0" height="4.0"/><rect x="121.40" y="375.60" width="4.0" height="4.0"/><rect x="122.80" y="377.98" width="4.0" height="4.0"/><rect x="124.20" y="379.20" width="4.0" height="4.0"/><rect x="125.60" y="382.61" width="4.0" height="4.0"/><rect x="127.00" y="385.88" width="4.0" height="4.0"/><rect x="128.40" y="386.58" width="4.0" height="4.0"/><rect x="129.80" y="389.76" width="4.0" height="4.0"/><rect x="131.20" y="395.20" width="4.0" height="4.0"/><rect x="132.60" y="398.96" width="4.0" height="4.0"/><rect x="134.00" y="399.78" width="4.0" height="4.0"/><rect x="135.40" y="403.49" width="4.0" height="4.0"/><rect x="136.80" y="408.49" width="4.0" height="4.0"/><rect x="138.20" y="414.00" width="4.0" height="4.0"/><rect x="139.60" y="416.20" width="4.0" height="4.0"/><rect x="141.00" y="420.26" width="4.0" height="4.0"/><rect x="142.40" y="424.20" width="4.0" height="4.0"/><rect x="143.80" y="425.78" width="4.0" height="4.0"/><rect x="145.20" y="428.61" width="4.0" height="4.0"/><rect x="146.60" y="429.44" width="4.0" height="4.0"/><rect x="148.00" y="436.34" width="4.0" height="4.0"/><rect x="149.40" y="442.30" width="4.0" height="4.0"/><rect x="150.80" y="443.18" width="4.0" height="4.0"/><rect x="152.20" y="444.62" width="4.0" height="4.0"/><rect x="153.60" y="445.84" width="4.0" height="4.0"/><rect x="155.00" y="448.01" width="4.0" height="4.0"/><rect x="156.40" y="446.50" width="4.0" height="4.0"/><rect x="157.80" y="449.33" width="4.0" height="4.0"/><rect x="159.20" y="449.18" width="4.0" height="4.0"/><rect x="160.60" y="448.71" width="4.0" height="4.0"/><rect x="162.00" y="450.28" width="4.0" height="4.0"/><rect x="163.40" y="451.09" width="4.0" height="4.0"/><rect x="164.80" y="450.25" width="4.0" height="4.0"/><rect x="166.20" y="453.33" width="4.0" height="4.0"/><rect x="167.60" y="451.95" width="4.0" height="4.0"/><rect x="169.00" y="452.12" width="4.0" height="4.0"/><rect x="170.40" y="453.75" width="4.0" height="4.0"/><rect x="171.80" y="452.35" width="4.0" height="4.0"/><rect x="173.20" y="454.89" width="4.0" height="4.0"/><rect x="174.60" y="453.98" width="4.0" height="4.0"/><rect x="176.00" y="451.08" width="4.0" height="4.0"/><rect x="177.40" y="448.22" width="4.0" height="4.0"/><rect x="178.80" y="447.32" width="4.0" height="4.0"/><rect x="180.20" y="449.32" width="4.0" height="4.0"/><rect x="181.60" y="449.59" width="4.0" height="4.0"/><rect x="183.00" y="448.87" width="4.0" height="4.0"/><rect x="184.40" y="450.47" width="4.0" height="4.0"/><rect x="185.80" y="450.32" width="4.0" height="4.0"/><rect x="187.20" y="449.61" width="4.0" height="4.0"/><rect x="188.60" y="451.27" width="4.0" height="4.0"/><rect x="190.00" y="450.54" width="4.0" height="4.0"/><rect x="191.40" y="449.75" width="4.0" height="4.0"/><rect x="192.80" y="449.93" width="4.0" height="4.0"/><rect x="194.20" y="451.70" width="4.0" height="4.0"/><rect x="195.60" y="452.27" width="4.0" height="4.0"/><rect x="197.00" y="450.87" width="4.0" height="4.0"/><rect x="198.40" y="452.43" width="4.0" height="4.0"/><rect x="199.80" y="451.34" width="4.0" height="4.0"/><rect x="201.20" y="452.59" width="4.0" height="4.0"/><rect x="202.60" y="450.77" width="4.0" height="4.0"/><rect x="204.00" y="452.52" width="4.0" height="4.0"/><rect x="205.40" y="450.40" width="4.0" height="4.0"/><rect x="206.80" y="451.59" width="4.0" height="4.0"/><rect x="208.20" y="452.44" width="4.0" height="4.0"/><rect x="209.60" y="450.42" width="4.0" height="4.0"/><rect x="211.00" y="449.49" width="4.0" height="4.0"/><rect x="212.40" y="449.20" width="4.0" height="4.0"/><rect x="213.80" y="450.09" width="4.0" height="4.0"/><rect x="215.20" y="447.58" width="4.0" height="4.0"/><rect x="216.60" y="446.67" width="4.0" height="4.0"/><rect x="218.00" y="445.73" width="4.0" height="4.0"/><rect x="219.40" y="445.16" width="4.0" height="4.0"/><rect x="220.80" y="444.60" width="4.0" height="4.0"/><rect x="222.20" y="444.63" width="4.0" height="4.0"/><rect x="223.60" y="445.11" width="4.0" height="4.0"/><rect x="225.00" y="441.04" width="4.0" height="4.0"/><rect x="226.40" y="443.41" width="4.0" height="4.0"/><rect x="227.80" y="442.95" width="4.0" height="4.0"/><rect x="229.20" y="438.21" width="4.0" height="4.0"/><rect x="230.60" y="438.49" width="4.0" height="4.0"/><rect x="232.00" y="434.16" width="4.0" height="4.0"/><rect x="233.40" y="434.62" width="4.0" height="4.0"/><rect x="234.80" y="431.44" width="4.0" height="4.0"/><rect x="236.20" y="429.18" width="4.0" height="4.0"/><rect x="237.60" y="424.65" width="4.0" height="4.0"/><rect x="239.00" y="423.20" width="4.0" height="4.0"/><rect x="240.40" y="420.42" width="4.0" height="4.0"/><rect x="241.80" y="415.45" width="4.0" height="4.0"/><rect x="243.20" y="412.19" width="4.0" height="4.0"/><rect x="244.60" y="407.43" width="4.0" height="4.0"/><rect x="246.00" y="403.63" width="4.0" height="4.0"/><rect x="247.40" y="399.98" width="4.0" height="4.0"/><rect x="248.80" y="398.08" width="4.0" height="4.0"/><rect x="250.20" y="395.78" width="4.0" height="4.0"/><rect x="251.60" y="393.26" width="4.0" height="4.0"/><rect x="253.00" y="389.62" width="4.0" height="4.0"/><rect x="254.40" y="386.94" width="4.0" height="4.0"/><rect x="255.80" y="383.05" width="4.0" height="4.0"/><rect x="257.20" y="379.17" width="4.0" height="4.0"/><rect x="258.60" y="378.87" width="4.0" height="4.0"/><rect x="260.00" y="373.28" width="4.0" height="4.0"/><rect x="261.40" y="371.29" width="4.0" height="4.0"/><rect x="262.80" y="368.57" width="4.0" height="4.0"/><rect x="264.20" y="366.54" width="4.0" height="4.0"/><rect x="265.60" y="368.08" width="4.0" height="4.0"/><rect x="267.00" y="365.87" width="4.0" height="4.0"/><rect x="268.40" y="368.36" width="4.0" height="4.0"/><rect x="269.80" y="368.24" width="4.0" height="4.0"/><rect x="271.20" y="371.08" width="4.0" height="4.0"/><rect x="272.60" y="373.32" width="4.0" height="4.0"/><rect x="274.00" y="376.02" width="4.0" height="4.0"/><rect x="275.40" y="377.08" width="4.0" height="4.0"/><rect x="276.80" y="380.10" width="4.0" height="4.0"/><rect x="278.20" y="385.23" width="4.0" height="4.0"/><rect x="279.60" y="392.22" width="4.0" height="4.0"/><rect x="281.00" y="396.27" width="4.0" height="4.0"/><rect x="282.40" y="404.60" width="4.0" height="4.0"/><rect x="283.80" y="410.04" width="4.0" height="4.0"/><rect x="285.20" y="417.02" width="4.0" height="4.0"/><rect x="286.60" y="423.28" width="4.0" height="4.0"/><rect x="288.00" y="433.38" width="4.0" height="4.0"/><rect x="289.40" y="441.91" width="4.0" height="4.0"/><rect x="290.80" y="449.75" width="4.0" height="4.0"/><rect x="292.20" y="458.71" width="4.0" height="4.0"/><rect x="293.60" y="463.43" width="4.0" height="4.0"/><rect x="295.00" y="469.24" width="4.0" height="4.0"/><rect x="296.40" y="473.80" width="4.0" height="4.0"/><rect x="297.80" y="474.99" width="4.0" height="4.0"/><rect x="299.20" y="478.12" width="4.0" height="4.0"/><rect x="300.60" y="482.21" width="4.0" height="4.0"/><rect x="302.00" y="483.60" width="4.0" height="4.0"/><rect x="303.40" y="484.37" width="4.0" height="4.0"/><rect x="304.80" y="485.81" width="4.0" height="4.0"/><rect x="306.20" y="487.01" width="4.0" height="4.0"/><rect x="307.60" y="491.28" width="4.0" height="4.0"/><rect x="309.00" y="490.28" width="4.0" height="4.0"/><rect x="310.40" y="493.66" width="4.0" height="4.0"/><rect x="311.80" y="494.27" width="4.0" height="4.0"/><rect x="313.20" y="497.24" width="4.0" height="4.0"/></g>
<path d="M38.0,413.50 38.5,413.65 39.0,413.80 39.5,413.95 40.0,414.10 40.5,414.25 41.0,414.40 41.5,414.55 42.0,414.70 42.5,414.85 43.0,415.00 43.5,415.15 44.0,415.30 44.5,415.45 45.0,415.60 45.5,415.75 46.0,415.90 46.5,416.05 47.0,416.20 47.5,416.35 48.0,416.50 48.5,416.65 49.0,416.80 49.5,416.95 50.0,417.10 50.5,417.25 51.0,417.40 51.5,417.55 52.0,417.70 52.5,417.85 53.0,418.00 53.5,418.15 54.0,418.30 54.5,418.45 55.0,418.60 55.5,418.75 56.0,418.90 56.5,419.05 57.0,419.20 57.5,419.35 58.0,419.50 58.5,419.65 59.0,419.80 59.5,419.95 60.0,420.10 60.5,420.25 61.0,420.40 61.5,420.55 62.0,420.70 62.5,420.85 63.0,421.00 63.5,421.14 64.0,421.29 64.5,421.44 65.0,421.59 65.5,421.74 66.0,421.89 66.5,422.04 67.0,422.19 67.5,422.34 68.0,422.49 68.5,422.64 69.0,422.79 69.5,422.94 70.0,423.09 70.5,423.24 71.0,423.39 71.5,423.54 72.0,423.69 72.5,423.84 73.0,423.99 73.5,424.14 74.0,424.29 74.5,424.44 75.0,424.59 75.5,424.74 76.0,424.89 76.5,425.04 77.0,425.19 77.5,425.34 78.0,425.49 78.5,425.64 79.0,425.79 79.5,425.94 80.0,426.09 80.5,426.24 81.0,426.39 81.5,426.54 82.0,426.69 82.5,426.84 83.0,426.99 83.5,427.14 84.0,427.29 84.5,427.44 85.0,427.59 85.5,427.74 86.0,427.89 86.5,428.04 87.0,428.19 87.5,428.34 88.0,428.49 88.5,428.64 89.0,428.79 89.5,428.94 90.0,429.09 90.5,429.24 91.0,429.39 91.5,429.54 92.0,429.69 92.5,429.84 93.0,429.99 93.5,430.14 94.0,430.29 94.5,430.44 95.0,430.59 95.5,430.74 96.0,430.89 96.5,431.04 97.0,431.19 97.5,431.34 98.0,431.49 98.5,431.64 99.0,431.79 99.5,431.94 100.0,432.09 100.5,432.24 101.0,432.39 101.5,432.54 102.0,432.69 102.5,432.84 103.0,432.99 103.5,433.14 104.0,433.29 104.5,433.44 105.0,433.59 105.5,433.74 106.0,433.89 106.5,434.04 107.0,434.19 107.5,434.34 108.0,434.49 108.5,434.64 109.0,434.79 109.5,434.94 110.0,435.09 110.5,435.24 111.0,435.39 111.5,435.54 112.0,435.69 112.5,435.84 113.0,435.99 113.5,436.13 114.0,436.28 114.5,436.43 115.0,436.58 115.5,436.73 116.0,436.88 116.5,437.03 117.0,437.18 117.5,437.33 118.0,437.48 118.5,437.63 119.0,437.78 119.5,437.93 120.0,438.08 120.5,438.23 121.0,438.38 121.5,438.53 122.0,438.68 122.5,438.83 123.0,438.98 123.5,439.13 124.0,439.28 124.5,439.43 125.0,439.58 125.5,439.73 126.0,439.88 126.5,440.03 127.0,440.18 127.5,440.33 128.0,440.48 128.5,440.63 129.0,440.78 129.5,440.93 130.0,441.08 130.5,441.23 131.0,441.38 131.5,441.53 132.0,441.68 132.5,441.83 133.0,441.98 133.5,442.13 134.0,442.28 134.5,442.43 135.0,442.58 135.5,442.73 136.0,442.88 136.5,443.03 137.0,443.18 137.5,443.33 138.0,443.48 138.5,443.63 139.0,443.78 139.5,443.93 140.0,444.08 140.5,444.23 141.0,444.38 141.5,444.53 142.0,444.68 142.5,444.83 143.0,444.98 143.5,445.13 144.0,445.28 144.5,445.43 145.0,445.58 145.5,445.73 146.0,445.88 146.5,446.03 147.0,446.18 147.5,446.33 148.0,446.48 148.5,446.63 149.0,446.78 149.5,446.93 150.0,447.08 150.5,447.23 151.0,447.38 151.5,447.53 152.0,447.68 152.5,447.83 153.0,447.98 153.5,448.13 154.0,448.28 154.5,448.43 155.0,448.58 155.5,448.73 156.0,448.88 156.5,449.03 157.0,449.18 157.5,449.33 158.0,449.48 158.5,449.63 159.0,449.78 159.5,449.93 160.0,450.08 160.5,450.23 161.0,450.38 161.5,450.53 162.0,450.68 162.5,450.83 163.0,450.98 163.5,451.12 164.0,451.27 164.5,451.42 165.0,451.57 165.5,451.72 166.0,451.87 166.5,452.02 167.0,452.17 167.5,452.32 168.0,452.47 168.5,452.62 169.0,452.77 169.5,452.92 170.0,453.07 170.5,453.22 171.0,453.37 171.5,453.52 172.0,453.67 172.5,453.82 173.0,453.97 173.5,454.12 174.0,454.27 174.5,454.42 175.0,454.57 175.5,454.72 176.0,454.87 176.5,455.02 177.0,455.17 177.5,455.32 178.0,455.47 178.5,455.62 179.0,455.77 179.5,455.92 180.0,456.07 180.5,456.22 181.0,456.37 181.5,456.52 182.0,456.67 182.5,456.82 183.0,456.97 183.5,457.12 184.0,457.27 184.5,457.42 185.0,457.57 185.5,457.72 186.0,457.87 186.5,458.02 187.0,458.17 187.5,458.32 188.0,458.47 188.5,458.62 189.0,458.77 189.5,458.92 190.0,459.07 190.5,459.22 191.0,459.37 191.5,459.52 192.0,459.67 192.5,459.82 193.0,459.97 193.5,460.12 194.0,460.27 194.5,460.42 195.0,460.57 195.5,460.72 196.0,460.87 196.5,461.02 197.0,461.17 197.5,461.32 198.0,461.47 198.5,461.62 199.0,461.77 199.5,461.92 200.0,462.07 200.5,462.22 201.0,462.37 201.5,462.52 202.0,462.67 202.5,462.82 203.0,462.97 203.5,463.12 204.0,463.27 204.5,463.42 205.0,463.57 205.5,463.72 206.0,463.87 206.5,464.02 207.0,464.17 207.5,464.32 208.0,464.47 208.5,464.62 209.0,464.77 209.5,464.92 210.0,465.07 210.5,465.22 211.0,465.37 211.5,465.52 212.0,465.67 212.5,465.82 213.0,465.97 213.5,466.11 214.0,466.26 214.5,466.41 215.0,466.56 215.5,466.71 216.0,466.86 216.5,467.01 217.0,467.16 217.5,467.31 218.0,467.46 218.5,467.61 219.0,467.76 219.5,467.91 220.0,468.06 220.5,468.21 221.0,468.36 221.5,468.51 222.0,468.66 222.5,468.81 223.0,468.96 223.5,469.11 224.0,469.26 224.5,469.41 225.0,469.56 225.5,469.71 226.0,469.86 226.5,470.01 227.0,470.16 227.5,470.31 228.0,470.46 228.5,470.61 229.0,470.76 229.5,470.91 230.0,471.06 230.5,471.21 231.0,471.36 231.5,471.51 232.0,471.66 232.5,471.81 233.0,471.96 233.5,472.11 234.0,472.26 234.5,472.41 235.0,472.56 235.5,472.71 236.0,472.86 236.5,473.01 237.0,473.16 237.5,473.31 238.0,473.46 238.5,473.61 239.0,473.76 239.5,473.91 240.0,474.06 240.5,474.21 241.0,474.36 241.5,474.51 242.0,474.66 242.5,474.81 243.0,474.96 243.5,475.11 244.0,475.26 244.5,475.41 245.0,475.56 245.5,475.71 246.0,475.86 246.5,476.01 247.0,476.16 247.5,476.31 248.0,476.46 248.5,476.61 249.0,476.76 249.5,476.91 250.0,477.06 250.5,477.21 251.0,477.36 251.5,477.51 252.0,477.66 252.5,477.81 253.0,477.96 253.5,478.11 254.0,478.26 254.5,478.41 255.0,478.56 255.5,478.71 256.0,478.86 256.5,479.01 257.0,479.16 257.5,479.31 258.0,479.46 258.5,479.61 259.0,479.76 259.5,479.91 260.0,480.06 260.5,480.21 261.0,480.36 261.5,480.51 262.0,480.66 262.5,480.81 263.0,480.95 263.5,481.10 264.0,481.25 264.5,481.40 265.0,481.55 265.5,481.70 266.0,481.85 266.5,482.00 267.0,482.15 267.5,482.30 268.0,482.45 268.5,482.60 269.0,482.75 269.5,482.90 270.0,483.05 270.5,483.20 271.0,483.35 271.5,483.50 272.0,483.65 272.5,483.80 273.0,483.95 273.5,484.10 274.0,484.25 274.5,484.40 275.0,484.55 275.5,484.70 276.0,484.85 276.5,485.00 277.0,485.15 277.5,485.30 278.0,485.45 278.5,485.60 279.0,485.75 279.5,485.90 280.0,486.05 280.5,486.20 281.0,486.35 281.5,486.50 282.0,486.65 282.5,486.80 283.0,486.95 283.5,487.10 284.0,487.25 284.5,487.40 285.0,487.55 285.5,487.70 286.0,487.85 286.5,488.00 287.0,488.15 287.5,488.30 288.0,488.45 288.5,488.60 289.0,488.75 289.5,488.90 290.0,489.05 290.5,489.20 291.0,489.35 291.5,489.50 292.0,489.65 292.5,489.80 293.0,489.95 293.5,490.10 294.0,490.25 294.5,490.40 295.0,490.55 295.5,490.70 296.0,490.85 296.5,491.00 297.0,491.15 297.5,491.30 298.0,491.45 298.5,491.60 299.0,491.75 299.5,491.90 300.0,492.05 300.5,492.20 301.0,492.35 301.5,492.50 302.0,492.65 302.5,492.80 303.0,492.95 303.5,493.10 304.0,493.25 304.5,493.40 305.0,493.55 305.5,493.70 306.0,493.85 306.5,494.00 307.0,494.15 307.5,494.30 308.0,494.45 308.5,494.60 309.0,494.75 309.5,494.90 310.0,495.05 310.5,495.20 311.0,495.35 311.5,495.50 312.0,495.65 312.5,495.80 313.0,495.94 313.5,496.09 314.0,496.24 314.5,496.39 315.0,496.54 315.5,496.69 316.0,496.84 316.5,496.99" fill="none" stroke="#0000e6" stroke-width="2.6" stroke-linecap="round" stroke-linejoin="round"/>
<path d="M38.0,412.05 38.5,412.17 39.0,412.29 39.5,412.40 40.0,412.52 40.5,412.63 41.0,412.74 41.5,412.85 42.0,412.96 42.5,413.06 43.0,413.17 43.5,413.27 44.0,413.37 44.5,413.47 45.0,413.57 45.5,413.67 46.0,413.76 46.5,413.85 47.0,413.94 47.5,414.03 48.0,414.11 48.5,414.19 49.0,414.27 49.5,414.35 50.0,414.42 50.5,414.49 51.0,414.56 51.5,414.63 52.0,414.69 52.5,414.75 53.0,414.80 53.5,414.86 54.0,414.91 54.5,414.95 55.0,414.99 55.5,415.03 56.0,415.07 56.5,415.10 57.0,415.13 57.5,415.15 58.0,415.17 58.5,415.18 59.0,415.19 59.5,415.20 60.0,415.20 60.5,415.20 61.0,415.19 61.5,415.18 62.0,415.16 62.5,415.14 63.0,415.11 63.5,415.08 64.0,415.04 64.5,414.99 65.0,414.95 65.5,414.89 66.0,414.83 66.5,414.76 67.0,414.69 67.5,414.61 68.0,414.53 68.5,414.44 69.0,414.34 69.5,414.24 70.0,414.13 70.5,414.02 71.0,413.90 71.5,413.77 72.0,413.64 72.5,413.50 73.0,413.35 73.5,413.19 74.0,413.03 74.5,412.86 75.0,412.69 75.5,412.51 76.0,412.32 76.5,412.12 77.0,411.92 77.5,411.71 78.0,411.49 78.5,411.27 79.0,411.04 79.5,410.80 80.0,410.56 80.5,410.30 81.0,410.04 81.5,409.78 82.0,409.50 82.5,409.22 83.0,408.93 83.5,408.64 84.0,408.33 84.5,408.02 85.0,407.71 85.5,407.38 86.0,407.05 86.5,406.71 87.0,406.37 87.5,406.02 88.0,405.66 88.5,405.29 89.0,404.92 89.5,404.54 90.0,404.15 90.5,403.76 91.0,403.36 91.5,402.95 92.0,402.54 92.5,402.12 93.0,401.70 93.5,401.36 94.0,401.02 94.5,400.69 95.0,400.36 95.5,400.03 96.0,399.71 96.5,399.39 97.0,399.08 97.5,398.72 98.0,398.24 98.5,397.62 99.0,396.86 99.5,396.00 100.0,395.17 100.5,394.58 101.0,394.06 101.5,393.54 102.0,393.02 102.5,392.49 103.0,391.96 103.5,391.43 104.0,390.90 104.5,390.36 105.0,389.83 105.5,389.29 106.0,388.76 106.5,388.23 107.0,387.71 107.5,387.19 108.0,386.67 108.5,386.16 109.0,385.66 109.5,385.17 110.0,384.70 110.5,384.23 111.0,383.78 111.5,383.35 112.0,382.93 112.5,382.53 113.0,382.16 113.5,381.80 114.0,381.46 114.5,381.15 115.0,380.86 115.5,380.59 116.0,380.33 116.5,380.09 117.0,379.84 117.5,379.60 118.0,379.37 118.5,379.16 119.0,379.03 119.5,378.97 120.0,379.01 120.5,379.12 121.0,379.31 121.5,379.58 122.0,379.92 122.5,380.33 123.0,380.82 123.5,381.36 124.0,381.97 124.5,382.64 125.0,383.36 125.5,384.12 126.0,384.94 126.5,385.80 127.0,386.69 127.5,387.62 128.0,388.58 128.5,389.57 129.0,390.58 129.5,391.62 130.0,392.68 130.5,393.75 131.0,394.84 131.5,395.95 132.0,397.07 132.5,398.19 133.0,399.33 133.5,400.47 134.0,401.64 134.5,402.84 135.0,404.07 135.5,405.33 136.0,406.62 136.5,407.93 137.0,409.25 137.5,410.60 138.0,411.95 138.5,413.30 139.0,414.66 139.5,416.01 140.0,417.35 140.5,418.68 141.0,419.99 141.5,421.27 142.0,422.53 142.5,423.76 143.0,424.95 143.5,426.10 144.0,427.21 144.5,428.28 145.0,429.31 145.5,430.29 146.0,431.23 146.5,432.11 147.0,432.96 147.5,433.76 148.0,434.51 148.5,435.23 149.0,436.03 149.5,436.99 150.0,437.91 150.5,438.69 151.0,439.34 151.5,439.88 152.0,440.33 152.5,440.73 153.0,441.09 153.5,441.43 154.0,441.75 154.5,442.07 155.0,442.38 155.5,442.69 156.0,442.98 156.5,443.28 157.0,443.57 157.5,443.85 158.0,444.12 158.5,444.40 159.0,444.66 159.5,444.92 160.0,445.18 160.5,445.43 161.0,445.68 161.5,445.92 162.0,446.16 162.5,446.39 163.0,446.62 163.5,446.85 164.0,447.07 164.5,447.29 165.0,447.50 165.5,447.71 166.0,447.92 166.5,448.12 167.0,448.32 167.5,448.52 168.0,448.72 168.5,448.91 169.0,449.10 169.5,449.29 170.0,449.48 170.5,449.67 171.0,449.85 171.5,450.03 172.0,450.21 172.5,450.39 173.0,450.57 173.5,450.74 174.0,450.92 174.5,451.09 175.0,451.26 175.5,451.43 176.0,451.59 176.5,451.76 177.0,451.92 177.5,452.09 178.0,452.25 178.5,452.40 179.0,452.56 179.5,452.72 180.0,452.87 180.5,453.02 181.0,453.17 181.5,453.32 182.0,453.47 182.5,453.61 183.0,453.76 183.5,453.90 184.0,454.04 184.5,454.17 185.0,454.31 185.5,454.44 186.0,454.58 186.5,454.70 187.0,454.83 187.5,454.96 188.0,455.08 188.5,455.20 189.0,455.32 189.5,455.43 190.0,455.55 190.5,455.66 191.0,455.77 191.5,455.87 192.0,455.97 192.5,456.07 193.0,456.17 193.5,456.26 194.0,456.35 194.5,456.43 195.0,456.51 195.5,456.59 196.0,456.67 196.5,456.74 197.0,456.80 197.5,456.86 198.0,456.92 198.5,456.97 199.0,457.01 199.5,457.05 200.0,457.09 200.5,457.12 201.0,457.14 201.5,457.16 202.0,457.17 202.5,457.17 203.0,457.17 203.5,457.16 204.0,457.15 204.5,457.12 205.0,457.09 205.5,457.05 206.0,457.00 206.5,456.94 207.0,456.88 207.5,456.80 208.0,456.72 208.5,456.63 209.0,456.52 209.5,456.41 210.0,456.29 210.5,456.15 211.0,456.01 211.5,455.85 212.0,455.69 212.5,455.51 213.0,455.32 213.5,455.12 214.0,454.90 214.5,454.67 215.0,454.43 215.5,454.18 216.0,453.92 216.5,453.64 217.0,453.34 217.5,453.04 218.0,452.72 218.5,452.38 219.0,452.03 219.5,451.67 220.0,451.29 220.5,450.90 221.0,450.49 221.5,450.07 222.0,449.64 222.5,449.19 223.0,448.72 223.5,448.24 224.0,447.74 224.5,447.23 225.0,446.71 225.5,446.17 226.0,445.62 226.5,445.05 227.0,444.47 227.5,443.87 228.0,443.26 228.5,442.64 229.0,442.00 229.5,441.35 230.0,440.69 230.5,440.02 231.0,439.33 231.5,438.64 232.0,437.93 232.5,437.21 233.0,436.48 233.5,435.74 234.0,435.00 234.5,434.24 235.0,433.48 235.5,432.69 236.0,431.88 236.5,431.04 237.0,430.16 237.5,429.25 238.0,428.29 238.5,427.30 239.0,426.26 239.5,425.19 240.0,424.08 240.5,422.96 241.0,421.85 241.5,420.80 242.0,419.83 242.5,418.88 243.0,417.94 243.5,416.98 244.0,416.03 244.5,415.08 245.0,414.12 245.5,413.16 246.0,412.21 246.5,411.25 247.0,410.29 247.5,409.33 248.0,408.36 248.5,407.40 249.0,406.44 249.5,405.47 250.0,404.50 250.5,403.53 251.0,402.56 251.5,401.58 252.0,400.59 252.5,399.61 253.0,398.61 253.5,397.61 254.0,396.61 254.5,395.59 255.0,394.57 255.5,393.54 256.0,392.50 256.5,391.46 257.0,390.41 257.5,389.35 258.0,388.28 258.5,387.21 259.0,386.13 259.5,385.06 260.0,383.98 260.5,382.91 261.0,381.84 261.5,380.79 262.0,379.74 262.5,378.72 263.0,377.71 263.5,376.74 264.0,375.81 264.5,374.93 265.0,374.09 265.5,373.32 266.0,372.61 266.5,371.97 267.0,371.40 267.5,370.91 268.0,370.50 268.5,370.18 269.0,369.95 269.5,369.80 270.0,369.75 270.5,369.80 271.0,369.94 271.5,370.18 272.0,370.51 272.5,370.93 273.0,371.45 273.5,372.06 274.0,372.76 274.5,373.58 275.0,374.51 275.5,375.56 276.0,376.71 276.5,377.97 277.0,379.33 277.5,380.78 278.0,382.31 278.5,383.93 279.0,385.62 279.5,387.39 280.0,389.23 280.5,391.13 281.0,393.10 281.5,395.12 282.0,397.21 282.5,399.35 283.0,401.54 283.5,403.79 284.0,406.09 284.5,408.43 285.0,410.82 285.5,413.25 286.0,415.75 286.5,418.35 287.0,421.02 287.5,423.77 288.0,426.56 288.5,429.38 289.0,432.21 289.5,435.03 290.0,437.81 290.5,440.54 291.0,443.20 291.5,445.78 292.0,448.25 292.5,450.61 293.0,452.85 293.5,454.97 294.0,456.97 294.5,458.85 295.0,460.60 295.5,462.24 296.0,463.78 296.5,465.21 297.0,466.55 297.5,467.81 298.0,468.99 298.5,470.10 299.0,471.15 299.5,472.15 300.0,473.09 300.5,473.99 301.0,474.85 301.5,475.68 302.0,476.47 302.5,477.24 303.0,477.98 303.5,478.69 304.0,479.38 304.5,480.05 305.0,480.70 305.5,481.33 306.0,481.94 306.5,482.53 307.0,483.10 307.5,483.66 308.0,484.21 308.5,484.73 309.0,485.25 309.5,485.74 310.0,486.23 310.5,486.70 311.0,487.16 311.5,487.60 312.0,488.03 312.5,488.45 313.0,488.87 313.5,489.32 314.0,489.79 314.5,490.26 315.0,490.73 315.5,491.19 316.0,491.64 316.5,492.08" fill="none" stroke="#e60000" stroke-width="2.9" stroke-linecap="round" stroke-linejoin="round"/>
<path d="M38.0,413.50 38.5,413.65 39.0,413.80 39.5,413.95 40.0,414.10 40.5,414.25 41.0,414.40 41.5,414.55 42.0,414.70 42.5,414.85 43.0,415.00 43.5,415.15 44.0,415.30 44.5,415.45 45.0,415.60 45.5,415.75 46.0,415.90 46.5,416.05 47.0,416.20 47.5,416.35 48.0,416.50 48.5,416.65 49.0,416.80 49.5,416.95 50.0,417.10 50.5,417.25 51.0,417.40 51.5,417.55 52.0,417.70 52.5,417.85 53.0,418.00 53.5,418.15 54.0,418.30 54.5,418.45 55.0,418.60 55.5,418.75 56.0,418.90 56.5,419.05 57.0,419.20 57.5,419.35 58.0,419.50 58.5,419.65 59.0,419.80 59.5,419.95 60.0,420.10 60.5,420.25 61.0,420.40 61.5,420.55 62.0,420.70 62.5,420.85 63.0,420.99 63.5,421.14 64.0,421.29 64.5,421.44 65.0,421.59 65.5,421.74 66.0,421.89 66.5,422.04 67.0,422.19 67.5,422.34 68.0,422.49 68.5,422.64 69.0,422.79 69.5,422.94 70.0,423.09 70.5,423.24 71.0,423.39 71.5,423.54 72.0,423.69 72.5,423.84 73.0,423.99 73.5,424.14 74.0,424.29 74.5,424.44 75.0,424.59 75.5,424.74 76.0,424.89 76.5,425.04 77.0,425.19 77.5,425.34 78.0,425.49 78.5,425.64 79.0,425.79 79.5,425.94 80.0,426.09 80.5,426.24 81.0,426.39 81.5,426.54 82.0,426.69 82.5,426.83 83.0,426.98 83.5,427.13 84.0,427.28 84.5,427.42 85.0,427.57 85.5,427.72 86.0,427.86 86.5,428.01 87.0,428.15 87.5,428.29 88.0,428.43 88.5,428.57 89.0,428.71 89.5,428.84 90.0,428.98 90.5,429.11 91.0,429.23 91.5,429.36 92.0,429.47 92.5,429.59 93.0,429.70 93.5,429.80 94.0,429.90 94.5,429.99 95.0,430.07 95.5,430.15 96.0,430.21 96.5,430.26 97.0,430.30 97.5,430.33 98.0,430.35 98.5,430.35 99.0,430.33 99.5,430.30 100.0,430.25 100.5,430.17 101.0,430.08 101.5,429.97 102.0,429.83 102.5,429.66 103.0,429.47 103.5,429.26 104.0,429.02 104.5,428.74 105.0,428.44 105.5,428.11 106.0,427.75 106.5,427.36 107.0,426.94 107.5,426.49 108.0,426.01 108.5,425.51 109.0,424.97 109.5,424.41 110.0,423.83 110.5,423.23 111.0,422.60 111.5,421.96 112.0,421.31 112.5,420.64 113.0,419.97 113.5,419.29 114.0,418.62 114.5,417.95 115.0,417.29 115.5,416.64 116.0,416.01 116.5,415.40 117.0,414.82 117.5,414.28 118.0,413.76 118.5,413.29 119.0,412.87 119.5,412.49 120.0,412.16 120.5,411.89 121.0,411.68 121.5,411.53 122.0,411.44 122.5,411.41 123.0,411.46 123.5,411.57 124.0,411.74 124.5,411.99 125.0,412.31 125.5,412.69 126.0,413.14 126.5,413.66 127.0,414.23 127.5,414.87 128.0,415.55 128.5,416.29 129.0,417.08 129.5,417.90 130.0,418.77 130.5,419.66 131.0,420.59 131.5,421.53 132.0,422.50 132.5,423.48 133.0,424.47 133.5,425.46 134.0,426.45 134.5,427.44 135.0,428.42 135.5,429.38 136.0,430.34 136.5,431.27 137.0,432.18 137.5,433.07 138.0,433.93 138.5,434.77 139.0,435.58 139.5,436.36 140.0,437.11 140.5,437.82 141.0,438.51 141.5,439.16 142.0,439.79 142.5,440.38 143.0,440.94 143.5,441.48 144.0,441.98 144.5,442.46 145.0,442.92 145.5,443.34 146.0,443.75 146.5,444.13 147.0,444.49 147.5,444.83 148.0,445.15 148.5,445.46 149.0,445.75 149.5,446.03 150.0,446.29 150.5,446.54 151.0,446.78 151.5,447.01 152.0,447.23 152.5,447.44 153.0,447.64 153.5,447.84 154.0,448.03 154.5,448.21 155.0,448.40 155.5,448.57 156.0,448.75 156.5,448.92 157.0,449.08 157.5,449.25 158.0,449.41 158.5,449.57 159.0,449.73 159.5,449.89 160.0,450.04 160.5,450.20 161.0,450.35 161.5,450.51 162.0,450.66 162.5,450.81 163.0,450.96 163.5,451.12 164.0,451.27 164.5,451.42 165.0,451.57 165.5,451.72 166.0,451.87 166.5,452.02 167.0,452.17 167.5,452.32 168.0,452.47 168.5,452.62 169.0,452.77 169.5,452.92 170.0,453.07 170.5,453.22 171.0,453.37 171.5,453.52 172.0,453.67 172.5,453.82 173.0,453.97 173.5,454.12 174.0,454.27 174.5,454.42 175.0,454.57 175.5,454.72 176.0,454.87 176.5,455.02 177.0,455.17 177.5,455.32 178.0,455.47 178.5,455.62 179.0,455.77 179.5,455.92 180.0,456.07 180.5,456.22 181.0,456.37 181.5,456.52 182.0,456.67 182.5,456.82 183.0,456.97 183.5,457.12 184.0,457.27 184.5,457.42 185.0,457.57 185.5,457.72 186.0,457.87 186.5,458.02 187.0,458.17 187.5,458.32 188.0,458.47 188.5,458.62 189.0,458.77 189.5,458.92 190.0,459.07 190.5,459.22 191.0,459.37 191.5,459.52 192.0,459.67 192.5,459.82 193.0,459.97 193.5,460.12 194.0,460.27 194.5,460.42 195.0,460.57 195.5,460.72 196.0,460.87 196.5,461.02 197.0,461.17 197.5,461.32 198.0,461.47 198.5,461.62 199.0,461.77 199.5,461.92 200.0,462.07 200.5,462.22 201.0,462.37 201.5,462.52 202.0,462.67 202.5,462.82 203.0,462.97 203.5,463.12 204.0,463.27 204.5,463.42 205.0,463.57 205.5,463.72 206.0,463.87 206.5,464.02 207.0,464.17 207.5,464.32 208.0,464.47 208.5,464.62 209.0,464.77 209.5,464.92 210.0,465.07 210.5,465.22 211.0,465.37 211.5,465.52 212.0,465.67 212.5,465.82 213.0,465.96 213.5,466.11 214.0,466.26 214.5,466.41 215.0,466.56 215.5,466.71 216.0,466.86 216.5,467.01 217.0,467.16 217.5,467.31 218.0,467.46 218.5,467.61 219.0,467.76 219.5,467.91 220.0,468.06 220.5,468.21 221.0,468.36 221.5,468.51 222.0,468.66 222.5,468.81 223.0,468.96 223.5,469.11 224.0,469.26 224.5,469.41 225.0,469.56 225.5,469.71 226.0,469.86 226.5,470.01 227.0,470.16 227.5,470.31 228.0,470.46 228.5,470.61 229.0,470.76 229.5,470.90 230.0,471.05 230.5,471.20 231.0,471.35 231.5,471.50 232.0,471.64 232.5,471.79 233.0,471.93 233.5,472.08 234.0,472.22 234.5,472.37 235.0,472.51 235.5,472.65 236.0,472.79 236.5,472.92 237.0,473.06 237.5,473.19 238.0,473.32 238.5,473.44 239.0,473.57 239.5,473.68 240.0,473.80 240.5,473.91 241.0,474.01 241.5,474.10 242.0,474.19 242.5,474.27 243.0,474.34 243.5,474.40 244.0,474.45 244.5,474.49 245.0,474.51 245.5,474.52 246.0,474.51 246.5,474.48 247.0,474.43 247.5,474.36 248.0,474.27 248.5,474.16 249.0,474.01 249.5,473.84 250.0,473.64 250.5,473.40 251.0,473.14 251.5,472.83 252.0,472.49 252.5,472.10 253.0,471.68 253.5,471.21 254.0,470.70 254.5,470.14 255.0,469.53 255.5,468.88 256.0,468.17 256.5,467.42 257.0,466.61 257.5,465.75 258.0,464.85 258.5,463.89 259.0,462.89 259.5,461.84 260.0,460.74 260.5,459.60 261.0,458.43 261.5,457.21 262.0,455.97 262.5,454.69 263.0,453.39 263.5,452.07 264.0,450.74 264.5,449.39 265.0,448.05 265.5,446.71 266.0,445.38 266.5,444.06 267.0,442.77 267.5,441.51 268.0,440.29 268.5,439.11 269.0,437.99 269.5,436.93 270.0,435.93 270.5,435.00 271.0,434.15 271.5,433.39 272.0,432.72 272.5,432.14 273.0,431.66 273.5,431.29 274.0,431.02 274.5,430.86 275.0,430.82 275.5,430.88 276.0,431.07 276.5,431.41 277.0,431.90 277.5,432.54 278.0,433.32 278.5,434.25 279.0,435.30 279.5,436.48 280.0,437.78 280.5,439.18 281.0,440.68 281.5,442.27 282.0,443.94 282.5,445.67 283.0,447.45 283.5,449.28 284.0,451.14 284.5,453.02 285.0,454.91 285.5,456.80 286.0,458.68 286.5,460.54 287.0,462.38 287.5,464.18 288.0,465.94 288.5,467.65 289.0,469.31 289.5,470.91 290.0,472.45 290.5,473.92 291.0,475.33 291.5,476.68 292.0,477.95 292.5,479.16 293.0,480.30 293.5,481.37 294.0,482.37 294.5,483.32 295.0,484.20 295.5,485.02 296.0,485.78 296.5,486.49 297.0,487.15 297.5,487.77 298.0,488.33 298.5,488.86 299.0,489.35 299.5,489.80 300.0,490.22 300.5,490.61 301.0,490.97 301.5,491.31 302.0,491.62 302.5,491.92 303.0,492.19 303.5,492.45 304.0,492.70 304.5,492.93 305.0,493.15 305.5,493.36 306.0,493.56 306.5,493.76 307.0,493.95 307.5,494.13 308.0,494.31 308.5,494.48 309.0,494.65 309.5,494.82 310.0,494.98 310.5,495.14 311.0,495.30 311.5,495.46 312.0,495.62 312.5,495.77 313.0,495.93 313.5,496.08 314.0,496.23 314.5,496.38 315.0,496.54 315.5,496.69 316.0,496.84 316.5,496.99" fill="none" stroke="#e60be6" stroke-width="2.6" stroke-linecap="round" stroke-linejoin="round"/>
<path d="M38.0,411.40 38.5,411.52 39.0,411.63 39.5,411.75 40.0,411.87 40.5,411.98 41.0,412.09 41.5,412.20 42.0,412.31 42.5,412.42 43.0,412.53 43.5,412.64 44.0,412.74 44.5,412.85 45.0,412.95 45.5,413.05 46.0,413.14 46.5,413.24 47.0,413.34 47.5,413.43 48.0,413.52 48.5,413.61 49.0,413.69 49.5,413.77 50.0,413.85 50.5,413.93 51.0,414.01 51.5,414.08 52.0,414.15 52.5,414.22 53.0,414.28 53.5,414.34 54.0,414.40 54.5,414.45 55.0,414.51 55.5,414.55 56.0,414.60 56.5,414.63 57.0,414.67 57.5,414.70 58.0,414.73 58.5,414.75 59.0,414.77 59.5,414.78 60.0,414.79 60.5,414.80 61.0,414.80 61.5,414.79 62.0,414.78 62.5,414.76 63.0,414.74 63.5,414.71 64.0,414.68 64.5,414.64 65.0,414.59 65.5,414.54 66.0,414.48 66.5,414.42 67.0,414.35 67.5,414.27 68.0,414.19 68.5,414.10 69.0,414.00 69.5,413.90 70.0,413.79 70.5,413.67 71.0,413.54 71.5,413.41 72.0,413.27 72.5,413.12 73.0,412.97 73.5,412.81 74.0,412.64 74.5,412.46 75.0,412.28 75.5,412.09 76.0,411.89 76.5,411.68 77.0,411.47 77.5,411.25 78.0,411.02 78.5,410.79 79.0,410.55 79.5,410.30 80.0,410.04 80.5,409.78 81.0,409.51 81.5,409.23 82.0,408.95 82.5,408.67 83.0,408.37 83.5,408.07 84.0,407.77 84.5,407.46 85.0,407.14 85.5,406.82 86.0,406.50 86.5,406.17 87.0,405.84 87.5,405.50 88.0,405.16 88.5,404.82 89.0,404.48 89.5,404.13 90.0,403.79 90.5,403.44 91.0,403.09 91.5,402.74 92.0,402.40 92.5,402.05 93.0,401.70 93.5,401.36 94.0,401.02 94.5,400.69 95.0,400.36 95.5,400.03 96.0,399.71 96.5,399.39 97.0,399.08 97.5,398.78 98.0,398.49 98.5,398.21 99.0,397.93 99.5,397.67 100.0,397.42 100.5,397.18 101.0,396.96 101.5,396.75 102.0,396.55 102.5,396.37 103.0,396.21 103.5,396.06 104.0,395.93 104.5,395.82 105.0,395.73 105.5,395.66 106.0,395.61 106.5,395.58 107.0,395.57 107.5,395.58 108.0,395.61 108.5,395.67 109.0,395.75 109.5,395.86 110.0,395.98 110.5,396.14 111.0,396.31 111.5,396.52 112.0,396.76 112.5,397.02 113.0,397.31 113.5,397.62 114.0,397.96 114.5,398.33 115.0,398.72 115.5,399.14 116.0,399.57 116.5,400.03 117.0,400.51 117.5,401.01 118.0,401.53 118.5,402.07 119.0,402.63 119.5,403.20 120.0,403.79 120.5,404.38 121.0,405.00 121.5,405.62 122.0,406.26 122.5,406.90 123.0,407.55 123.5,408.21 124.0,408.88 124.5,409.56 125.0,410.23 125.5,410.92 126.0,411.60 126.5,412.29 127.0,412.98 127.5,413.67 128.0,414.36 128.5,415.05 129.0,415.74 129.5,416.43 130.0,417.11 130.5,417.80 131.0,418.48 131.5,419.15 132.0,419.82 132.5,420.49 133.0,421.15 133.5,421.80 134.0,422.45 134.5,423.10 135.0,423.73 135.5,424.36 136.0,424.98 136.5,425.60 137.0,426.20 137.5,426.80 138.0,427.39 138.5,427.98 139.0,428.55 139.5,429.12 140.0,429.67 140.5,430.22 141.0,430.76 141.5,431.29 142.0,431.81 142.5,432.32 143.0,432.83 143.5,433.32 144.0,433.81 144.5,434.28 145.0,434.75 145.5,435.21 146.0,435.66 146.5,436.10 147.0,436.53 147.5,436.96 148.0,437.37 148.5,437.78 149.0,438.18 149.5,438.57 150.0,438.95 150.5,439.33 151.0,439.70 151.5,440.06 152.0,440.41 152.5,440.76 153.0,441.09 153.5,441.43 154.0,441.75 154.5,442.07 155.0,442.38 155.5,442.69 156.0,442.98 156.5,443.28 157.0,443.57 157.5,443.85 158.0,444.12 158.5,444.40 159.0,444.66 159.5,444.92 160.0,445.18 160.5,445.43 161.0,445.68 161.5,445.92 162.0,446.16 162.5,446.40 163.0,446.63 163.5,446.85 164.0,447.08 164.5,447.30 165.0,447.51 165.5,447.73 166.0,447.94 166.5,448.14 167.0,448.35 167.5,448.55 168.0,448.75 168.5,448.94 169.0,449.14 169.5,449.33 170.0,449.52 170.5,449.70 171.0,449.89 171.5,450.07 172.0,450.25 172.5,450.43 173.0,450.60 173.5,450.78 174.0,450.95 174.5,451.12 175.0,451.29 175.5,451.46 176.0,451.62 176.5,451.78 177.0,451.95 177.5,452.11 178.0,452.26 178.5,452.42 179.0,452.58 179.5,452.73 180.0,452.88 180.5,453.03 181.0,453.18 181.5,453.33 182.0,453.47 182.5,453.62 183.0,453.76 183.5,453.90 184.0,454.04 184.5,454.18 185.0,454.31 185.5,454.44 186.0,454.58 186.5,454.70 187.0,454.83 187.5,454.96 188.0,455.08 188.5,455.20 189.0,455.32 189.5,455.43 190.0,455.55 190.5,455.66 191.0,455.77 191.5,455.87 192.0,455.97 192.5,456.07 193.0,456.17 193.5,456.26 194.0,456.35 194.5,456.43 195.0,456.51 195.5,456.59 196.0,456.67 196.5,456.74 197.0,456.80 197.5,456.86 198.0,456.92 198.5,456.97 199.0,457.01 199.5,457.05 200.0,457.09 200.5,457.12 201.0,457.14 201.5,457.16 202.0,457.17 202.5,457.17 203.0,457.17 203.5,457.16 204.0,457.15 204.5,457.12 205.0,457.09 205.5,457.05 206.0,457.00 206.5,456.94 207.0,456.88 207.5,456.80 208.0,456.72 208.5,456.63 209.0,456.52 209.5,456.41 210.0,456.29 210.5,456.15 211.0,456.01 211.5,455.85 212.0,455.69 212.5,455.51 213.0,455.32 213.5,455.12 214.0,454.90 214.5,454.67 215.0,454.43 215.5,454.18 216.0,453.92 216.5,453.64 217.0,453.34 217.5,453.04 218.0,452.72 218.5,452.38 219.0,452.03 219.5,451.67 220.0,451.29 220.5,450.90 221.0,450.49 221.5,450.07 222.0,449.64 222.5,449.19 223.0,448.72 223.5,448.24 224.0,447.74 224.5,447.23 225.0,446.71 225.5,446.17 226.0,445.62 226.5,445.05 227.0,444.47 227.5,443.87 228.0,443.26 228.5,442.64 229.0,442.00 229.5,441.35 230.0,440.69 230.5,440.02 231.0,439.33 231.5,438.64 232.0,437.93 232.5,437.21 233.0,436.48 233.5,435.74 234.0,435.00 234.5,434.24 235.0,433.48 235.5,432.71 236.0,431.93 236.5,431.15 237.0,430.36 237.5,429.57 238.0,428.77 238.5,427.98 239.0,427.18 239.5,426.38 240.0,425.58 240.5,424.78 241.0,423.98 241.5,423.18 242.0,422.39 242.5,421.60 243.0,420.82 243.5,420.05 244.0,419.28 244.5,418.53 245.0,417.78 245.5,417.04 246.0,416.32 246.5,415.61 247.0,414.92 247.5,414.24 248.0,413.58 248.5,412.93 249.0,412.31 249.5,411.71 250.0,411.13 250.5,410.57 251.0,410.03 251.5,409.53 252.0,409.04 252.5,408.59 253.0,408.16 253.5,407.77 254.0,407.40 254.5,407.07 255.0,406.77 255.5,406.51 256.0,406.27 256.5,406.08 257.0,405.92 257.5,405.79 258.0,405.71 258.5,405.66 259.0,405.65 259.5,405.67 260.0,405.74 260.5,405.85 261.0,405.99 261.5,406.18 262.0,406.43 262.5,406.72 263.0,407.06 263.5,407.45 264.0,407.89 264.5,408.38 265.0,408.91 265.5,409.49 266.0,410.12 266.5,410.78 267.0,411.49 267.5,412.24 268.0,413.03 268.5,413.86 269.0,414.72 269.5,415.62 270.0,416.55 270.5,417.51 271.0,418.50 271.5,419.52 272.0,420.57 272.5,421.64 273.0,422.73 273.5,423.84 274.0,424.97 274.5,426.12 275.0,427.28 275.5,428.46 276.0,429.65 276.5,430.85 277.0,432.07 277.5,433.28 278.0,434.51 278.5,435.74 279.0,436.97 279.5,438.20 280.0,439.44 280.5,440.67 281.0,441.90 281.5,443.13 282.0,444.35 282.5,445.57 283.0,446.78 283.5,447.98 284.0,449.18 284.5,450.36 285.0,451.53 285.5,452.70 286.0,453.85 286.5,454.98 287.0,456.11 287.5,457.21 288.0,458.31 288.5,459.39 289.0,460.45 289.5,461.49 290.0,462.52 290.5,463.53 291.0,464.52 291.5,465.50 292.0,466.45 292.5,467.39 293.0,468.31 293.5,469.21 294.0,470.09 294.5,470.96 295.0,471.80 295.5,472.63 296.0,473.43 296.5,474.22 297.0,474.99 297.5,475.74 298.0,476.47 298.5,477.18 299.0,477.88 299.5,478.56 300.0,479.22 300.5,479.86 301.0,480.49 301.5,481.09 302.0,481.69 302.5,482.26 303.0,482.82 303.5,483.37 304.0,483.90 304.5,484.42 305.0,484.92 305.5,485.40 306.0,485.88 306.5,486.34 307.0,486.79 307.5,487.22 308.0,487.65 308.5,488.06 309.0,488.46 309.5,488.85 310.0,489.23 310.5,489.59 311.0,489.95 311.5,490.30 312.0,490.64 312.5,490.97 313.0,491.30 313.5,491.61 314.0,491.92 314.5,492.22 315.0,492.51 315.5,492.80 316.0,493.08 316.5,493.35" fill="none" stroke="#036c03" stroke-width="2.6" stroke-linecap="round" stroke-linejoin="round"/>
<line x1="109.6" y1="350.3" x2="109.6" y2="385.8" stroke="#036c03" stroke-width="1.7"/><path d="M107.0,384.8 L112.19999999999999,384.8 L109.6,394.8 Z" fill="#036c03"/>
<text transform="translate(115,347.8) rotate(-90) scale(1.0,1)" fill="#036c03" style="font-family:'Liberation Serif',serif;font-weight:bold;font-size:14.0px">654.6 eV</text>
<line x1="125.6" y1="357" x2="125.6" y2="398.1" stroke="#e60be6" stroke-width="1.7"/><path d="M123.0,397.1 L128.2,397.1 L125.6,407.1 Z" fill="#e60be6"/>
<text transform="translate(130.8,353.4) rotate(-90) scale(1.0,1)" fill="#e60be6" style="font-family:'Liberation Serif',serif;font-weight:bold;font-size:13.85px">653.4 eV</text>
<line x1="258.6" y1="347.3" x2="258.6" y2="394.6" stroke="#036c03" stroke-width="1.7"/><path d="M256.0,393.6 L261.20000000000005,393.6 L258.6,403.6 Z" fill="#036c03"/>
<text transform="translate(263.8,343.1) rotate(-90) scale(1.0,1)" fill="#036c03" style="font-family:'Liberation Serif',serif;font-weight:bold;font-size:14.0px">642.9 eV</text>
<line x1="276.8" y1="355.5" x2="276.8" y2="416.4" stroke="#e60be6" stroke-width="1.7"/><path d="M274.2,415.4 L279.40000000000003,415.4 L276.8,425.4 Z" fill="#e60be6"/>
<text transform="translate(280.6,350.4) rotate(-90) scale(1.0,1)" fill="#e60be6" style="font-family:'Liberation Serif',serif;font-weight:bold;font-size:13.5px">641.7 eV</text>
<text transform="translate(150,315.3) scale(1,1.0)" fill="#0808c0" text-anchor="start" style="font-family:'Liberation Serif',serif;font-weight:bold;font-size:17px">Mn2p_XPS</text>
<text transform="translate(301,319.8) scale(1,1.07)" fill="#6e0e0e" style="font-family:'Liberation Serif',serif;font-weight:bold;font-size:19px">(b)</text>
<line x1="45.8" y1="483.7" x2="69.9" y2="483.7" stroke="#e60be6" stroke-width="2.8"/>
<text transform="translate(73.6,488) scale(1,1.1)" fill="#e60be6" style="font-family:'Liberation Serif',serif;font-weight:bold;font-size:16.4px">Mn<tspan dx="1.3" dy="-4.4" style="font-size:17px">3+</tspan></text>
<line x1="45.8" y1="513" x2="69.9" y2="513" stroke="#036c03" stroke-width="2.8"/>
<text transform="translate(73.6,516) scale(1,1.1)" fill="#036c03" style="font-family:'Liberation Serif',serif;font-weight:bold;font-size:16.4px">Mn<tspan dx="1.3" dy="-4.4" style="font-size:17px">4+</tspan></text>
<line x1="131.1" y1="488.5" x2="154.5" y2="488.5" stroke="#000" stroke-width="2.2"/><rect x="140.8" y="486.5" width="5" height="4.2"/>
<text transform="translate(158.7,492.2) scale(1,1.05)" fill="#000" text-anchor="start" style="font-family:'Liberation Serif',serif;font-weight:bold;font-size:17px">Raw data</text>
<line x1="131.1" y1="511.2" x2="154.5" y2="511.2" stroke="#e60000" stroke-width="2.8"/>
<text transform="translate(158.7,515) scale(1,1.05)" fill="#c80000" text-anchor="start" style="font-family:'Liberation Serif',serif;font-weight:bold;font-size:17px">Peak sum</text>
<rect x="28" y="45.3" width="300" height="241.0" fill="none" stroke="#000" stroke-width="2"/>
<line x1="27.3" y1="286.3" x2="27.3" y2="521" stroke="#000" stroke-width="2"/>
<line x1="328.7" y1="286.3" x2="328.7" y2="522" stroke="#000" stroke-width="2"/>
<line x1="26.3" y1="521" x2="329.7" y2="521" stroke="#000" stroke-width="2"/>
</svg>
</body></html>
